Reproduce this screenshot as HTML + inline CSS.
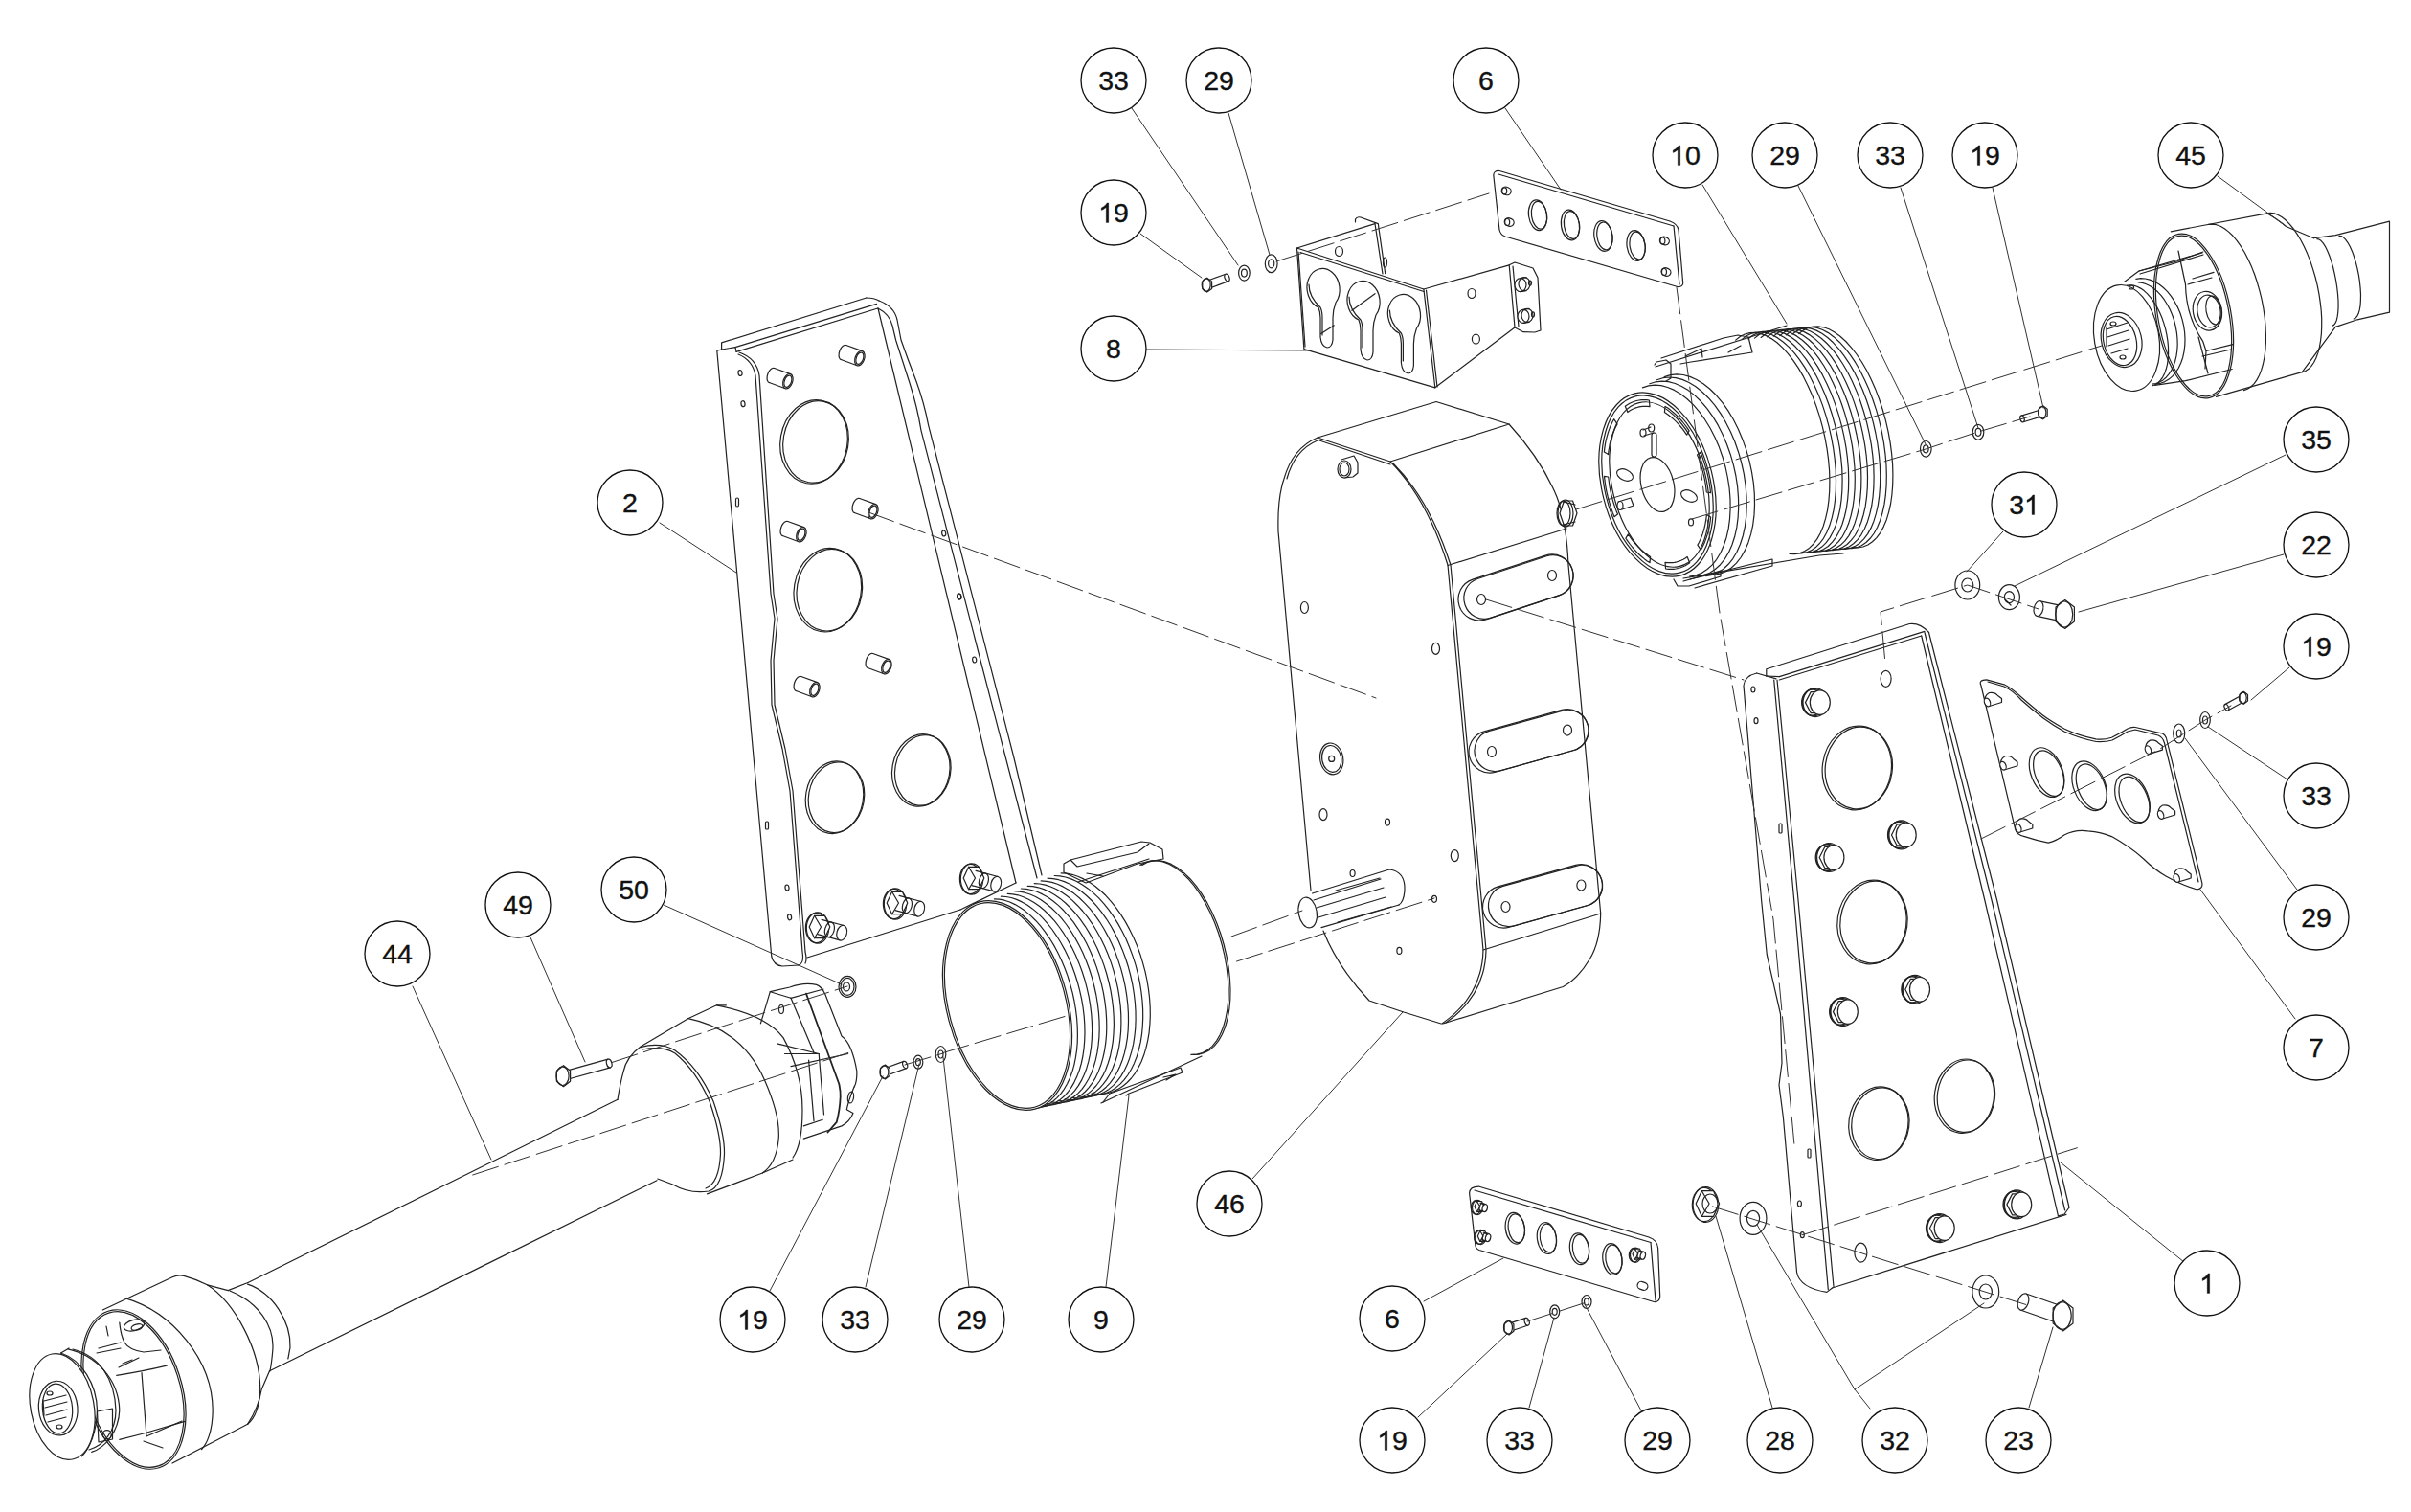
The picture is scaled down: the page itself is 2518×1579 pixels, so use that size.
<!DOCTYPE html>
<html><head><meta charset="utf-8"><title>Exploded view</title>
<style>
html,body{margin:0;padding:0;background:#fff;}
body{width:2518px;height:1579px;overflow:hidden;}
svg{display:block;}
svg text{font-family:"Liberation Sans",sans-serif;font-size:28.5px;fill:#111;stroke:#111;stroke-width:0.35px;}
</style></head><body>
<svg width="2518" height="1579" viewBox="0 0 2518 1579">
<rect width="2518" height="1579" fill="#fff"/>
<g fill="none" stroke="#222" stroke-width="1.2" stroke-linejoin="round" stroke-linecap="round">

<path d="M753.6,365.0 L753.6,357.9 L904.8,311.0"/>
<path d="M904.8,311 Q913,311 918,314"/>
<path d="M767.9,362.6 L915.5,317.4"/>
<path d="M769.0,367.4 L916.7,322.0"/>
<path d="M753.6,365.0 L768.0,362.6 L769.0,367.4"/>
<path d="M748.8,366.2 L753.6,365 M748.8,366.2 L805.8,999 Q808,1008 817,1009 L834,1008"/>
<path d="M771,370 Q786,376 789,392 L805,620 L809,646 L805,690 L806,736 L817,782 L825,826 L838,994 Q840,1006 834,1008"/>
<path d="M772,368 Q790,374 793,392 L808,620 L812,646 L808,690 L809,736 L820,782 L828,826 L841,994 Q843,1002 841,1006"/>
<path d="M917.0,322.0 L1061.0,922.0"/>
<path d="M843.0,1000.0 L1003.0,950.0"/>
<path d="M1003.0,950.0 L1061.0,922.0"/>
<path d="M918,314 Q934,320 937,334 L941,355 Q948,375 956.6,397.3 Q965,420 969.7,444.3 L1058.6,790 L1088,914"/>
<path d="M917,322 Q929,328 932,340 L935.7,355.5 Q943,378 950,400 Q958,425 962,449.6 L1050,790 L1083,917"/>
<ellipse cx="850.0" cy="461.4" rx="35.0" ry="44.0" transform="rotate(10 850 461.4)"/>
<ellipse cx="852.0" cy="461.4" rx="34.0" ry="43.0" transform="rotate(10 852 461.4)"/>
<ellipse cx="864.3" cy="616.2" rx="35.0" ry="44.0" transform="rotate(10 864.3 616.2)"/>
<ellipse cx="866.3" cy="616.2" rx="34.0" ry="43.0" transform="rotate(10 866.3 616.2)"/>
<ellipse cx="871.5" cy="832.7" rx="30.0" ry="38.0" transform="rotate(10 871.5 832.7)"/>
<ellipse cx="873.5" cy="832.7" rx="29.0" ry="37.0" transform="rotate(10 873.5 832.7)"/>
<ellipse cx="961.8" cy="804.4" rx="30.0" ry="38.0" transform="rotate(10 961.8 804.4)"/>
<ellipse cx="963.8" cy="804.4" rx="29.0" ry="37.0" transform="rotate(10 963.8 804.4)"/>
<path d="M803.3,399.5 L820.2,405.7"/>
<path d="M808.7,384.5 L825.7,390.6"/>
<path d="M803.3,399.5 L802.3,398.9 L801.6,397.8 L801.1,396.3 L801.1,394.5 L801.3,392.5 L801.9,390.5 L802.7,388.6 L803.8,386.9 L805.0,385.6 L806.3,384.7 L807.6,384.3 L808.7,384.5"/>
<ellipse cx="822.9" cy="398.2" rx="4.8" ry="8.0" transform="rotate(20 822.9144671741464 398.15636257986205)" fill="#fff"/>
<ellipse cx="822.9" cy="398.2" rx="3.6" ry="6.4" transform="rotate(20 822.9144671741464 398.15636257986205)"/>
<path d="M878.3,375.5 L895.2,381.7"/>
<path d="M883.7,360.5 L900.7,366.6"/>
<path d="M878.3,375.5 L877.3,374.9 L876.6,373.8 L876.1,372.3 L876.1,370.5 L876.3,368.5 L876.9,366.5 L877.7,364.6 L878.8,362.9 L880.0,361.6 L881.3,360.7 L882.6,360.3 L883.7,360.5"/>
<ellipse cx="897.9" cy="374.2" rx="4.8" ry="8.0" transform="rotate(20 897.9144671741464 374.15636257986205)" fill="#fff"/>
<ellipse cx="897.9" cy="374.2" rx="3.6" ry="6.4" transform="rotate(20 897.9144671741464 374.15636257986205)"/>
<path d="M892.3,535.5 L909.2,541.7"/>
<path d="M897.7,520.5 L914.7,526.6"/>
<path d="M892.3,535.5 L891.3,534.9 L890.6,533.8 L890.1,532.3 L890.1,530.5 L890.3,528.5 L890.9,526.5 L891.7,524.6 L892.8,522.9 L894.0,521.6 L895.3,520.7 L896.6,520.3 L897.7,520.5"/>
<ellipse cx="911.9" cy="534.2" rx="4.8" ry="8.0" transform="rotate(20 911.9144671741464 534.156362579862)" fill="#fff"/>
<ellipse cx="911.9" cy="534.2" rx="3.6" ry="6.4" transform="rotate(20 911.9144671741464 534.156362579862)"/>
<path d="M817.3,559.5 L834.2,565.7"/>
<path d="M822.7,544.5 L839.7,550.6"/>
<path d="M817.3,559.5 L816.3,558.9 L815.6,557.8 L815.1,556.3 L815.1,554.5 L815.3,552.5 L815.9,550.5 L816.7,548.6 L817.8,546.9 L819.0,545.6 L820.3,544.7 L821.6,544.3 L822.7,544.5"/>
<ellipse cx="836.9" cy="558.2" rx="4.8" ry="8.0" transform="rotate(20 836.9144671741464 558.156362579862)" fill="#fff"/>
<ellipse cx="836.9" cy="558.2" rx="3.6" ry="6.4" transform="rotate(20 836.9144671741464 558.156362579862)"/>
<path d="M831.3,721.5 L848.2,727.7"/>
<path d="M836.7,706.5 L853.7,712.6"/>
<path d="M831.3,721.5 L830.3,720.9 L829.6,719.8 L829.1,718.3 L829.1,716.5 L829.3,714.5 L829.9,712.5 L830.7,710.6 L831.8,708.9 L833.0,707.6 L834.3,706.7 L835.6,706.3 L836.7,706.5"/>
<ellipse cx="850.9" cy="720.2" rx="4.8" ry="8.0" transform="rotate(20 850.9144671741464 720.156362579862)" fill="#fff"/>
<ellipse cx="850.9" cy="720.2" rx="3.6" ry="6.4" transform="rotate(20 850.9144671741464 720.156362579862)"/>
<path d="M906.3,697.5 L923.2,703.7"/>
<path d="M911.7,682.5 L928.7,688.6"/>
<path d="M906.3,697.5 L905.3,696.9 L904.6,695.8 L904.1,694.3 L904.1,692.5 L904.3,690.5 L904.9,688.5 L905.7,686.6 L906.8,684.9 L908.0,683.6 L909.3,682.7 L910.6,682.3 L911.7,682.5"/>
<ellipse cx="925.9" cy="696.2" rx="4.8" ry="8.0" transform="rotate(20 925.9144671741464 696.156362579862)" fill="#fff"/>
<ellipse cx="925.9" cy="696.2" rx="3.6" ry="6.4" transform="rotate(20 925.9144671741464 696.156362579862)"/>
<ellipse cx="854.0" cy="969.0" rx="11.7" ry="16.2"/>
<ellipse cx="852.5" cy="969.0" rx="11.1" ry="15.6"/>
<path d="M866.8,968.0 L861.4,979.7 L850.6,979.7 L845.2,968.0 L850.6,956.3 L861.4,956.3 Z" fill="#fff"/>
<path d="M850.6,956.3 L857.5,968.0 L850.6,979.7"/>
<path d="M853.9,975.7 L877.1,981.9"/>
<path d="M858.1,960.3 L881.3,966.5"/>
<ellipse cx="866.4" cy="970.8" rx="4.8" ry="8.0" transform="rotate(15 866.4319989239219 970.7952456871072)"/>
<ellipse cx="879.2" cy="974.2" rx="5.2" ry="8.0" transform="rotate(15 879.1822198309376 974.2116570824605)" fill="#fff"/>
<ellipse cx="935.0" cy="944.0" rx="11.7" ry="16.2"/>
<ellipse cx="933.5" cy="944.0" rx="11.1" ry="15.6"/>
<path d="M947.8,943.0 L942.4,954.7 L931.6,954.7 L926.2,943.0 L931.6,931.3 L942.4,931.3 Z" fill="#fff"/>
<path d="M931.6,931.3 L938.5,943.0 L931.6,954.7"/>
<path d="M934.9,950.7 L958.1,956.9"/>
<path d="M939.1,935.3 L962.3,941.5"/>
<ellipse cx="947.4" cy="945.8" rx="4.8" ry="8.0" transform="rotate(15 947.4319989239219 945.7952456871072)"/>
<ellipse cx="960.2" cy="949.2" rx="5.2" ry="8.0" transform="rotate(15 960.1822198309376 949.2116570824605)" fill="#fff"/>
<ellipse cx="1015.0" cy="918.0" rx="11.7" ry="16.2"/>
<ellipse cx="1013.5" cy="918.0" rx="11.1" ry="15.6"/>
<path d="M1027.8,917.0 L1022.4,928.7 L1011.6,928.7 L1006.2,917.0 L1011.6,905.3 L1022.4,905.3 Z" fill="#fff"/>
<path d="M1011.6,905.3 L1018.5,917.0 L1011.6,928.7"/>
<path d="M1014.9,924.7 L1038.1,930.9"/>
<path d="M1019.1,909.3 L1042.3,915.5"/>
<ellipse cx="1027.4" cy="919.8" rx="4.8" ry="8.0" transform="rotate(15 1027.431998923922 919.7952456871072)"/>
<ellipse cx="1040.2" cy="923.2" rx="5.2" ry="8.0" transform="rotate(15 1040.1822198309376 923.2116570824605)" fill="#fff"/>
<ellipse cx="773.0" cy="389.5" rx="2.0" ry="3.0" transform="rotate(-10 773 389.5)"/>
<ellipse cx="776.0" cy="421.7" rx="2.0" ry="3.0" transform="rotate(-10 776 421.7)"/>
<ellipse cx="822.0" cy="927.0" rx="2.0" ry="3.0" transform="rotate(-10 822 927)"/>
<ellipse cx="824.6" cy="957.8" rx="2.0" ry="3.0" transform="rotate(-10 824.6 957.8)"/>
<ellipse cx="985.7" cy="557.0" rx="2.0" ry="3.0" transform="rotate(-10 985.7 557)"/>
<ellipse cx="1002.0" cy="623.0" rx="2.0" ry="3.0" transform="rotate(-10 1002 623)"/>
<ellipse cx="1017.7" cy="689.0" rx="2.0" ry="3.0" transform="rotate(-10 1017.7 689)"/>
<ellipse cx="1001.7" cy="623.0" rx="2.0" ry="3.0" transform="rotate(-10 1001.7 623)"/>
<rect x="768.5" y="520" width="3" height="9" rx="1.5"/>
<rect x="799.5" y="858" width="3" height="8" rx="1"/>
<path d="M1192.8,903.4 L1198.2,900.5 L1204.0,898.9 L1210.2,898.7 L1216.6,899.9 L1223.2,902.4 L1229.8,906.3 L1236.4,911.4 L1242.9,917.7 L1249.2,925.1 L1255.2,933.6 L1260.8,942.9 L1266.0,953.0 L1270.7,963.7 L1274.8,975.0 L1278.2,986.5 L1281.0,998.3 L1283.1,1010.1 L1284.4,1021.7 L1285.0,1033.1 L1284.8,1044.0 L1283.8,1054.3 L1282.0,1063.8 L1279.6,1072.5 L1276.4,1080.3 L1272.6,1086.9 L1268.2,1092.4 L1263.2,1096.6 L1257.8,1099.5 L1252.0,1101.1 L1245.8,1101.3" fill="#fff"/>
<path d="M1190.8,903.4 L1196.2,900.5 L1202.0,898.9 L1208.2,898.7 L1214.6,899.9 L1221.2,902.4 L1227.8,906.3 L1234.4,911.4 L1240.9,917.7 L1247.2,925.1 L1253.2,933.6 L1258.8,942.9 L1264.0,953.0 L1268.7,963.7 L1272.8,975.0 L1276.2,986.5 L1279.0,998.3 L1281.1,1010.1 L1282.4,1021.7 L1283.0,1033.1 L1282.8,1044.0 L1281.8,1054.3 L1280.0,1063.8 L1277.6,1072.5 L1274.4,1080.3 L1270.6,1086.9 L1266.2,1092.4 L1261.2,1096.6 L1255.8,1099.5 L1250.0,1101.1 L1243.8,1101.3"/>
<path d="M1126.0,921.0 L1200.0,897.0"/>
<path d="M1150.0,1152.0 L1255.0,1103.0"/>
<path d="M1038.4,938.8 L1043.7,939.2 L1049.1,940.2 L1054.6,942.0 L1060.1,944.6 L1065.5,947.7 L1071.0,951.6 L1076.3,956.1 L1081.5,961.2 L1086.6,966.9 L1091.4,973.1 L1096.1,979.8 L1100.5,986.9 L1104.6,994.5 L1108.4,1002.4 L1111.9,1010.7 L1115.0,1019.1 L1117.7,1027.8 L1120.1,1036.6 L1122.0,1045.5 L1123.5,1054.4 L1124.6,1063.2 L1125.2,1072.0 L1125.4,1080.6 L1125.2,1089.0 L1124.5,1097.1 L1123.3,1104.9 L1121.8,1112.3 L1119.8,1119.3 L1117.4,1125.8 L1114.6,1131.8 L1111.4,1137.3 L1107.9,1142.1 L1104.0,1146.4 L1099.9,1150.0 L1095.5,1152.9 L1090.8,1155.1 L1085.9,1156.7 L1080.8,1157.5 L1075.6,1157.6 L1070.2,1156.9"/>
<path d="M1045.4,936.1 L1050.7,936.5 L1056.2,937.5 L1061.7,939.4 L1067.2,941.9 L1072.7,945.1 L1078.2,948.9 L1083.6,953.4 L1088.8,958.6 L1093.9,964.3 L1098.8,970.5 L1103.5,977.3 L1107.9,984.5 L1112.1,992.1 L1115.9,1000.0 L1119.4,1008.3 L1122.5,1016.8 L1125.3,1025.5 L1127.6,1034.4 L1129.6,1043.3 L1131.1,1052.2 L1132.2,1061.1 L1132.8,1069.9 L1133.0,1078.6 L1132.7,1087.0 L1132.0,1095.2 L1130.9,1103.0 L1129.3,1110.5 L1127.3,1117.5 L1124.8,1124.1 L1122.0,1130.1 L1118.8,1135.6 L1115.3,1140.5 L1111.4,1144.8 L1107.2,1148.4 L1102.7,1151.3 L1098.0,1153.6 L1093.0,1155.1 L1087.9,1156.0 L1082.6,1156.1 L1077.2,1155.4"/>
<path d="M1052.3,933.4 L1057.7,933.8 L1063.2,934.8 L1068.8,936.7 L1074.3,939.2 L1079.9,942.4 L1085.4,946.3 L1090.8,950.8 L1096.1,956.0 L1101.3,961.7 L1106.2,968.0 L1110.9,974.7 L1115.4,982.0 L1119.5,989.6 L1123.4,997.6 L1126.9,1005.9 L1130.1,1014.5 L1132.9,1023.2 L1135.2,1032.1 L1137.2,1041.1 L1138.7,1050.1 L1139.8,1059.0 L1140.4,1067.9 L1140.6,1076.6 L1140.3,1085.1 L1139.6,1093.3 L1138.4,1101.2 L1136.8,1108.7 L1134.8,1115.7 L1132.3,1122.3 L1129.4,1128.4 L1126.2,1133.9 L1122.6,1138.9 L1118.7,1143.2 L1114.5,1146.8 L1109.9,1149.8 L1105.2,1152.1 L1100.2,1153.6 L1095.0,1154.5 L1089.7,1154.5 L1084.2,1153.9"/>
<path d="M1059.4,930.7 L1064.8,931.1 L1070.3,932.2 L1075.9,934.0 L1081.6,936.5 L1087.2,939.8 L1092.7,943.7 L1098.2,948.3 L1103.5,953.4 L1108.7,959.2 L1113.7,965.5 L1118.4,972.3 L1122.9,979.6 L1127.1,987.3 L1131.0,995.3 L1134.5,1003.7 L1137.7,1012.3 L1140.5,1021.1 L1142.8,1030.0 L1144.8,1039.0 L1146.3,1048.1 L1147.4,1057.1 L1148.0,1065.9 L1148.2,1074.7 L1147.9,1083.2 L1147.1,1091.4 L1145.9,1099.4 L1144.3,1106.9 L1142.2,1114.0 L1139.8,1120.7 L1136.9,1126.8 L1133.6,1132.3 L1130.0,1137.3 L1126.0,1141.6 L1121.7,1145.3 L1117.2,1148.3 L1112.4,1150.5 L1107.3,1152.1 L1102.1,1152.9 L1096.7,1153.0 L1091.2,1152.4"/>
<path d="M1066.3,928.0 L1071.8,928.4 L1077.4,929.5 L1083.0,931.3 L1088.7,933.9 L1094.4,937.1 L1099.9,941.0 L1105.5,945.6 L1110.8,950.8 L1116.0,956.6 L1121.1,962.9 L1125.8,969.8 L1130.4,977.1 L1134.6,984.8 L1138.5,992.9 L1142.0,1001.3 L1145.2,1009.9 L1148.0,1018.8 L1150.4,1027.8 L1152.4,1036.8 L1153.9,1045.9 L1155.0,1055.0 L1155.6,1063.9 L1155.8,1072.7 L1155.5,1081.3 L1154.7,1089.6 L1153.5,1097.5 L1151.8,1105.1 L1149.7,1112.3 L1147.2,1118.9 L1144.3,1125.1 L1141.0,1130.7 L1137.3,1135.7 L1133.3,1140.0 L1129.0,1143.7 L1124.4,1146.7 L1119.5,1149.0 L1114.5,1150.6 L1109.2,1151.4 L1103.8,1151.5 L1098.2,1150.9"/>
<path d="M1073.2,925.3 L1078.8,925.7 L1084.4,926.8 L1090.1,928.6 L1095.8,931.2 L1101.5,934.4 L1107.2,938.4 L1112.7,943.0 L1118.1,948.2 L1123.4,954.0 L1128.4,960.4 L1133.3,967.3 L1137.8,974.6 L1142.1,982.4 L1146.0,990.5 L1149.6,998.9 L1152.8,1007.6 L1155.6,1016.5 L1158.0,1025.5 L1160.0,1034.7 L1161.5,1043.8 L1162.6,1052.9 L1163.2,1061.9 L1163.4,1070.7 L1163.0,1079.3 L1162.3,1087.7 L1161.0,1095.7 L1159.4,1103.3 L1157.2,1110.5 L1154.7,1117.2 L1151.7,1123.4 L1148.4,1129.0 L1144.7,1134.0 L1140.6,1138.4 L1136.3,1142.1 L1131.6,1145.2 L1126.7,1147.5 L1121.6,1149.1 L1116.3,1149.9 L1110.8,1150.0 L1105.2,1149.4"/>
<path d="M1080.3,922.6 L1085.9,923.0 L1091.6,924.1 L1097.3,926.0 L1103.1,928.5 L1108.8,931.8 L1114.5,935.8 L1120.1,940.4 L1125.5,945.7 L1130.8,951.5 L1135.9,957.9 L1140.8,964.8 L1145.3,972.2 L1149.6,980.0 L1153.6,988.2 L1157.2,996.7 L1160.4,1005.4 L1163.2,1014.4 L1165.6,1023.4 L1167.6,1032.6 L1169.1,1041.8 L1170.2,1050.9 L1170.8,1059.9 L1170.9,1068.8 L1170.6,1077.5 L1169.8,1085.8 L1168.6,1093.9 L1166.9,1101.5 L1164.7,1108.8 L1162.1,1115.5 L1159.2,1121.7 L1155.8,1127.4 L1152.0,1132.4 L1148.0,1136.8 L1143.6,1140.6 L1138.9,1143.6 L1133.9,1145.9 L1128.8,1147.6 L1123.4,1148.4 L1117.9,1148.5 L1112.2,1147.9"/>
<path d="M1087.2,919.9 L1092.9,920.3 L1098.6,921.4 L1104.4,923.3 L1110.2,925.9 L1116.0,929.2 L1121.7,933.1 L1127.3,937.8 L1132.8,943.1 L1138.2,948.9 L1143.3,955.4 L1148.2,962.3 L1152.8,969.7 L1157.1,977.6 L1161.1,985.8 L1164.7,994.3 L1167.9,1003.1 L1170.8,1012.1 L1173.2,1021.2 L1175.2,1030.4 L1176.7,1039.6 L1177.8,1048.8 L1178.4,1057.9 L1178.5,1066.8 L1178.2,1075.5 L1177.4,1083.9 L1176.1,1092.0 L1174.4,1099.7 L1172.2,1107.0 L1169.6,1113.8 L1166.6,1120.0 L1163.2,1125.7 L1159.4,1130.8 L1155.3,1135.2 L1150.8,1139.0 L1146.1,1142.1 L1141.1,1144.4 L1135.9,1146.0 L1130.5,1146.9 L1124.9,1147.0 L1119.2,1146.4"/>
<path d="M1094.1,917.2 L1099.8,917.6 L1105.6,918.7 L1111.5,920.6 L1117.3,923.2 L1123.2,926.5 L1128.9,930.5 L1134.6,935.2 L1140.2,940.5 L1145.5,946.4 L1150.7,952.8 L1155.6,959.8 L1160.3,967.3 L1164.6,975.1 L1168.6,983.4 L1172.2,991.9 L1175.5,1000.8 L1178.4,1009.8 L1180.8,1019.0 L1182.8,1028.2 L1184.3,1037.5 L1185.4,1046.7 L1186.0,1055.9 L1186.1,1064.8 L1185.8,1073.6 L1184.9,1082.0 L1183.7,1090.2 L1181.9,1097.9 L1179.7,1105.2 L1177.1,1112.1 L1174.0,1118.4 L1170.6,1124.1 L1166.8,1129.2 L1162.6,1133.6 L1158.1,1137.4 L1153.3,1140.5 L1148.3,1142.9 L1143.0,1144.5 L1137.6,1145.4 L1132.0,1145.5 L1126.2,1144.9"/>
<path d="M1101.2,914.5 L1106.9,914.9 L1112.8,916.0 L1118.7,917.9 L1124.6,920.5 L1130.4,923.9 L1136.3,927.9 L1142.0,932.6 L1147.6,937.9 L1153.0,943.9 L1158.2,950.4 L1163.1,957.4 L1167.8,964.9 L1172.1,972.8 L1176.2,981.1 L1179.8,989.7 L1183.1,998.6 L1186.0,1007.6 L1188.4,1016.8 L1190.4,1026.1 L1191.9,1035.5 L1193.0,1044.7 L1193.6,1053.9 L1193.7,1062.9 L1193.3,1071.7 L1192.5,1080.2 L1191.2,1088.4 L1189.4,1096.2 L1187.2,1103.5 L1184.5,1110.4 L1181.4,1116.7 L1178.0,1122.5 L1174.1,1127.6 L1169.9,1132.1 L1165.4,1135.9 L1160.6,1139.0 L1155.5,1141.4 L1150.2,1143.0 L1144.7,1143.9 L1139.0,1144.0 L1133.2,1143.4"/>
<path d="M1108.1,911.8 L1113.9,912.2 L1119.8,913.3 L1125.7,915.2 L1131.7,917.9 L1137.6,921.2 L1143.5,925.2 L1149.2,930.0 L1154.9,935.3 L1160.3,941.3 L1165.5,947.8 L1170.5,954.9 L1175.2,962.4 L1179.6,970.4 L1183.7,978.7 L1187.4,987.3 L1190.7,996.2 L1193.5,1005.4 L1196.0,1014.6 L1198.0,1024.0 L1199.5,1033.3 L1200.6,1042.7 L1201.2,1051.9 L1201.3,1060.9 L1200.9,1069.8 L1200.1,1078.3 L1198.7,1086.6 L1196.9,1094.4 L1194.7,1101.8 L1192.0,1108.7 L1188.9,1115.0 L1185.4,1120.8 L1181.5,1126.0 L1177.2,1130.5 L1172.7,1134.3 L1167.8,1137.4 L1162.7,1139.8 L1157.3,1141.5 L1151.8,1142.4 L1146.1,1142.5 L1140.2,1141.9"/>
<ellipse cx="1052.0" cy="1050.0" rx="63.0" ry="112.0" transform="rotate(-15 1052 1050)" fill="#fff"/>
<ellipse cx="1052.0" cy="1050.0" rx="61.0" ry="110.0" transform="rotate(-15 1052 1050)"/>
<path d="M1111.0,911.0 L1111.0,902.0 L1118.0,898.0 L1192.0,879.0 L1201.0,880.0 L1214.0,887.0 L1215.0,897.0 L1188.0,902.0 L1153.0,915.0 L1134.0,922.0 L1111.0,911.0"/>
<path d="M1118.0,898.0 L1125.0,905.0 L1188.0,890.0 L1200.0,881.0"/>
<path d="M1135.0,912.0 L1152.0,915.0"/>
<path d="M1152.0,1151.0 L1159.0,1142.0 L1233.0,1115.0 L1235.0,1120.0 L1179.0,1142.0 L1176.0,1144.0"/>
<path d="M1215.0,1125.0 L1228.0,1122.0 L1218.0,1128.0"/>
<path d="M1376.0,457.0 L1500.0,419.5 L1576.0,443.0 L1452.0,482.0 Z"/>
<path d="M1378.0,460.0 L1452.0,485.0"/>
<path d="M1376,460 Q1352,470 1344,500"/>
<path d="M1376,457 Q1350,468 1341,500 Q1334,520 1335,555 L1369,930"/>
<path d="M1382,972 Q1397,1010 1430,1045 L1466,1057 L1505,1069"/>
<path d="M1452,482 Q1490,520 1512,590 L1549,992 Q1548,1040 1506,1069"/>
<path d="M1455,484 Q1493,522 1515,590 L1552,992 Q1551,1040 1510,1068"/>
<path d="M1576,443 Q1610,480 1626,519 Q1636,545 1638,590 L1671.7,954 Q1671,985 1660,1002 Q1648,1022 1632.4,1030.5 L1507,1069"/>
<path d="M1512.0,590.5 L1636.0,552.0"/>
<path d="M1549.0,992.0 L1671.7,954.0"/>
<rect x="1521.0" y="591.5" width="124.0" height="44.0" rx="22" ry="23.1" transform="rotate(-18.2 1583.0 613.5)"/>
<rect x="1527.0" y="592.5" width="118.0" height="43.0" rx="21" ry="23.1" transform="rotate(-18.2 1583.0 613.5)"/>
<ellipse cx="1547.0" cy="626.0" rx="4.5" ry="5.5"/>
<ellipse cx="1621.0" cy="601.0" rx="4.5" ry="5.5"/>
<rect x="1532.5" y="751.8" width="128.0" height="44.0" rx="22" ry="23.1" transform="rotate(-15.5 1596.5 773.8)"/>
<rect x="1538.5" y="752.8" width="122.0" height="43.0" rx="21" ry="23.1" transform="rotate(-15.5 1596.5 773.8)"/>
<ellipse cx="1558.0" cy="785.0" rx="4.5" ry="5.5"/>
<ellipse cx="1637.0" cy="762.6" rx="4.5" ry="5.5"/>
<rect x="1547.0" y="913.8" width="128.0" height="44.0" rx="22" ry="23.1" transform="rotate(-15.5 1611.0 935.8)"/>
<rect x="1553.0" y="914.8" width="122.0" height="43.0" rx="21" ry="23.1" transform="rotate(-15.5 1611.0 935.8)"/>
<ellipse cx="1572.5" cy="947.0" rx="4.5" ry="5.5"/>
<ellipse cx="1651.4" cy="924.5" rx="4.5" ry="5.5"/>
<ellipse cx="1362.4" cy="634.5" rx="4.0" ry="6.0"/>
<ellipse cx="1499.5" cy="677.4" rx="4.0" ry="6.0"/>
<ellipse cx="1382.0" cy="850.7" rx="4.0" ry="6.0"/>
<ellipse cx="1449.0" cy="858.6" rx="2.5" ry="3.5"/>
<ellipse cx="1519.3" cy="893.6" rx="4.0" ry="6.0"/>
<ellipse cx="1461.4" cy="992.9" rx="2.5" ry="3.5"/>
<ellipse cx="1412.6" cy="912.0" rx="2.5" ry="3.5"/>
<ellipse cx="1498.0" cy="938.8" rx="2.5" ry="3.5"/>
<ellipse cx="1390.7" cy="792.4" rx="12.0" ry="16.5" transform="rotate(-10 1390.7 792.4)"/>
<ellipse cx="1390.7" cy="792.4" rx="10.0" ry="14.0" transform="rotate(-10 1390.7 792.4)"/>
<ellipse cx="1390.7" cy="792.4" rx="3.0" ry="3.0"/>
<path d="M1401.0,480.0 L1414.0,476.0 L1418.0,483.0 L1418.0,494.0 L1413.0,498.0 L1404.0,499.0"/>
<ellipse cx="1404.0" cy="490.0" rx="7.0" ry="9.0" fill="#fff"/>
<ellipse cx="1404.0" cy="490.0" rx="5.0" ry="7.0"/>
<path d="M1647.0,536.0 L1642.5,549.0 L1633.5,549.0 L1629.0,536.0 L1633.5,523.0 L1642.5,523.0 Z" fill="#fff"/>
<ellipse cx="1635.0" cy="536.0" rx="8.0" ry="14.0"/>
<ellipse cx="1633.0" cy="536.0" rx="7.0" ry="13.0"/>
<path d="M1632.0,524.0 L1645.0,527.0"/>
<path d="M1632.0,548.0 L1645.0,545.0"/>
<path d="M1370.5,933.0 L1451.0,908.0"/>
<path d="M1380.0,968.6 L1461.0,945.0"/>
<path d="M1451,908 Q1468,910 1467,930 Q1466,942 1461,945"/>
<ellipse cx="1365.7" cy="953.0" rx="9.5" ry="16.0" transform="rotate(-10 1365.7 953)" fill="#fff"/>
<path d="M1372.0,940.0 L1442.0,918.0"/>
<path d="M1375.0,948.0 L1445.0,927.0"/>
<path d="M1377.0,958.0 L1447.0,937.0"/>
<path d="M1397.0,963.0 L1453.0,947.0"/>
<path d="M1395.0,930.0 L1441.0,917.0"/>
<path d="M1812.7,355.1 L1817.3,351.5 L1822.2,349.0 L1827.4,347.7 L1832.8,347.4 L1838.4,348.4 L1844.2,350.4 L1850.0,353.6 L1855.9,357.8 L1861.7,363.1 L1867.4,369.4 L1873.0,376.6 L1878.4,384.6 L1883.5,393.4 L1888.2,402.9 L1892.7,413.0 L1896.7,423.6 L1900.3,434.6 L1903.4,445.8 L1906.0,457.3 L1908.1,468.8 L1909.6,480.2 L1910.6,491.5 L1910.9,502.4 L1910.7,513.0 L1909.9,523.1 L1908.6,532.6 L1906.6,541.4 L1904.2,549.5 L1901.2,556.7 L1897.8,562.9 L1893.8,568.2 L1889.5,572.4 L1884.8,575.6 L1879.8,577.6 L1874.5,578.6 L1869.0,578.3"/>
<path d="M1819.3,354.4 L1823.9,350.8 L1828.8,348.4 L1834.0,347.0 L1839.4,346.8 L1845.0,347.7 L1850.8,349.7 L1856.6,352.9 L1862.5,357.2 L1868.3,362.4 L1874.0,368.7 L1879.6,375.9 L1885.0,383.9 L1890.1,392.8 L1894.8,402.3 L1899.3,412.4 L1903.3,422.9 L1906.9,433.9 L1910.0,445.2 L1912.6,456.6 L1914.7,468.1 L1916.2,479.5 L1917.2,490.8 L1917.5,501.8 L1917.3,512.4 L1916.5,522.5 L1915.2,532.0 L1913.2,540.8 L1910.8,548.8 L1907.8,556.0 L1904.4,562.3 L1900.4,567.5 L1896.1,571.8 L1891.4,574.9 L1886.4,577.0 L1881.1,577.9 L1875.6,577.7"/>
<path d="M1825.9,353.8 L1830.5,350.2 L1835.4,347.7 L1840.6,346.3 L1846.0,346.1 L1851.6,347.0 L1857.4,349.1 L1863.2,352.3 L1869.1,356.5 L1874.9,361.8 L1880.6,368.0 L1886.2,375.2 L1891.6,383.3 L1896.7,392.1 L1901.4,401.6 L1905.9,411.7 L1909.9,422.3 L1913.5,433.3 L1916.6,444.5 L1919.2,456.0 L1921.3,467.4 L1922.8,478.9 L1923.8,490.1 L1924.1,501.1 L1923.9,511.7 L1923.1,521.8 L1921.8,531.3 L1919.8,540.1 L1917.4,548.2 L1914.4,555.3 L1911.0,561.6 L1907.0,566.9 L1902.7,571.1 L1898.0,574.3 L1893.0,576.3 L1887.7,577.2 L1882.2,577.0"/>
<path d="M1832.5,353.1 L1837.1,349.5 L1842.0,347.0 L1847.2,345.7 L1852.6,345.5 L1858.2,346.4 L1864.0,348.4 L1869.8,351.6 L1875.7,355.8 L1881.5,361.1 L1887.2,367.4 L1892.8,374.6 L1898.2,382.6 L1903.3,391.4 L1908.0,400.9 L1912.5,411.0 L1916.5,421.6 L1920.1,432.6 L1923.2,443.9 L1925.8,455.3 L1927.9,466.8 L1929.4,478.2 L1930.4,489.5 L1930.7,500.5 L1930.5,511.0 L1929.7,521.1 L1928.4,530.6 L1926.4,539.5 L1924.0,547.5 L1921.0,554.7 L1917.6,560.9 L1913.6,566.2 L1909.3,570.5 L1904.6,573.6 L1899.6,575.7 L1894.3,576.6 L1888.8,576.4"/>
<path d="M1839.1,352.4 L1843.7,348.9 L1848.6,346.4 L1853.8,345.0 L1859.2,344.8 L1864.8,345.7 L1870.6,347.8 L1876.4,350.9 L1882.3,355.2 L1888.1,360.5 L1893.8,366.7 L1899.4,373.9 L1904.8,382.0 L1909.9,390.8 L1914.6,400.3 L1919.1,410.4 L1923.1,421.0 L1926.7,431.9 L1929.8,443.2 L1932.4,454.6 L1934.5,466.1 L1936.0,477.6 L1937.0,488.8 L1937.3,499.8 L1937.1,510.4 L1936.3,520.5 L1935.0,530.0 L1933.0,538.8 L1930.6,546.8 L1927.6,554.0 L1924.2,560.3 L1920.2,565.6 L1915.9,569.8 L1911.2,573.0 L1906.2,575.0 L1900.9,575.9 L1895.4,575.7"/>
<path d="M1845.7,351.8 L1850.3,348.2 L1855.2,345.7 L1860.4,344.4 L1865.8,344.1 L1871.4,345.1 L1877.2,347.1 L1883.0,350.3 L1888.9,354.5 L1894.7,359.8 L1900.4,366.1 L1906.0,373.3 L1911.4,381.3 L1916.5,390.1 L1921.2,399.6 L1925.7,409.7 L1929.7,420.3 L1933.3,431.3 L1936.4,442.5 L1939.0,454.0 L1941.1,465.5 L1942.6,476.9 L1943.6,488.2 L1943.9,499.1 L1943.7,509.7 L1942.9,519.8 L1941.6,529.3 L1939.6,538.1 L1937.2,546.2 L1934.2,553.4 L1930.8,559.6 L1926.8,564.9 L1922.5,569.1 L1917.8,572.3 L1912.8,574.3 L1907.5,575.3 L1902.0,575.0"/>
<path d="M1852.3,351.1 L1856.9,347.5 L1861.8,345.1 L1867.0,343.7 L1872.4,343.5 L1878.0,344.4 L1883.8,346.4 L1889.6,349.6 L1895.5,353.9 L1901.3,359.1 L1907.0,365.4 L1912.6,372.6 L1918.0,380.6 L1923.1,389.5 L1927.8,399.0 L1932.3,409.1 L1936.3,419.6 L1939.9,430.6 L1943.0,441.9 L1945.6,453.3 L1947.7,464.8 L1949.2,476.2 L1950.2,487.5 L1950.5,498.5 L1950.3,509.1 L1949.5,519.2 L1948.2,528.7 L1946.2,537.5 L1943.8,545.5 L1940.8,552.7 L1937.4,559.0 L1933.4,564.2 L1929.1,568.5 L1924.4,571.6 L1919.4,573.7 L1914.1,574.6 L1908.6,574.4"/>
<path d="M1858.9,350.5 L1863.5,346.9 L1868.4,344.4 L1873.6,343.0 L1879.0,342.8 L1884.6,343.7 L1890.4,345.8 L1896.2,349.0 L1902.1,353.2 L1907.9,358.5 L1913.6,364.7 L1919.2,371.9 L1924.6,380.0 L1929.7,388.8 L1934.4,398.3 L1938.9,408.4 L1942.9,419.0 L1946.5,430.0 L1949.6,441.2 L1952.2,452.7 L1954.3,464.1 L1955.8,475.6 L1956.8,486.8 L1957.1,497.8 L1956.9,508.4 L1956.1,518.5 L1954.8,528.0 L1952.8,536.8 L1950.4,544.9 L1947.4,552.0 L1944.0,558.3 L1940.0,563.6 L1935.7,567.8 L1931.0,571.0 L1926.0,573.0 L1920.7,573.9 L1915.2,573.7"/>
<path d="M1865.5,349.8 L1870.1,346.2 L1875.0,343.7 L1880.2,342.4 L1885.6,342.2 L1891.2,343.1 L1897.0,345.1 L1902.8,348.3 L1908.7,352.5 L1914.5,357.8 L1920.2,364.1 L1925.8,371.3 L1931.2,379.3 L1936.3,388.1 L1941.0,397.6 L1945.5,407.7 L1949.5,418.3 L1953.1,429.3 L1956.2,440.6 L1958.8,452.0 L1960.9,463.5 L1962.4,474.9 L1963.4,486.2 L1963.7,497.2 L1963.5,507.7 L1962.7,517.8 L1961.4,527.3 L1959.4,536.2 L1957.0,544.2 L1954.0,551.4 L1950.6,557.6 L1946.6,562.9 L1942.3,567.2 L1937.6,570.3 L1932.6,572.4 L1927.3,573.3 L1921.8,573.1"/>
<path d="M1872.1,349.1 L1876.7,345.6 L1881.6,343.1 L1886.8,341.7 L1892.2,341.5 L1897.8,342.4 L1903.6,344.5 L1909.4,347.6 L1915.3,351.9 L1921.1,357.2 L1926.8,363.4 L1932.4,370.6 L1937.8,378.7 L1942.9,387.5 L1947.6,397.0 L1952.1,407.1 L1956.1,417.7 L1959.7,428.6 L1962.8,439.9 L1965.4,451.3 L1967.5,462.8 L1969.0,474.3 L1970.0,485.5 L1970.3,496.5 L1970.1,507.1 L1969.3,517.2 L1968.0,526.7 L1966.0,535.5 L1963.6,543.5 L1960.6,550.7 L1957.2,557.0 L1953.2,562.3 L1948.9,566.5 L1944.2,569.7 L1939.2,571.7 L1933.9,572.6 L1928.4,572.4"/>
<path d="M1878.7,348.5 L1883.3,344.9 L1888.2,342.4 L1893.4,341.1 L1898.8,340.8 L1904.4,341.8 L1910.2,343.8 L1916.0,347.0 L1921.9,351.2 L1927.7,356.5 L1933.4,362.8 L1939.0,370.0 L1944.4,378.0 L1949.5,386.8 L1954.2,396.3 L1958.7,406.4 L1962.7,417.0 L1966.3,428.0 L1969.4,439.2 L1972.0,450.7 L1974.1,462.2 L1975.6,473.6 L1976.6,484.9 L1976.9,495.8 L1976.7,506.4 L1975.9,516.5 L1974.6,526.0 L1972.6,534.8 L1970.2,542.9 L1967.2,550.1 L1963.8,556.3 L1959.8,561.6 L1955.5,565.8 L1950.8,569.0 L1945.8,571.0 L1940.5,572.0 L1935.0,571.7"/>
<path d="M1729.0,383.0 L1866.0,340.0"/>
<path d="M1758.0,604.0 L1900.0,580.0 L1925.0,578.0"/>
<path d="M1715.4,404.9 L1721.7,402.9 L1728.2,402.2 L1734.9,402.7 L1741.7,404.5 L1748.6,407.4 L1755.4,411.5 L1762.1,416.7 L1768.6,422.9 L1774.8,430.1 L1780.6,438.2 L1786.0,447.0 L1790.9,456.5 L1795.3,466.6 L1799.0,477.2 L1802.1,488.0 L1804.4,499.0 L1806.1,510.0 L1807.0,521.0 L1807.1,531.7 L1806.5,542.1 L1805.2,551.9 L1803.1,561.2 L1800.2,569.8 L1796.8,577.5 L1792.7,584.3 L1788.0,590.1 L1782.7,594.8 L1777.1,598.4 L1771.0,600.8 L1764.6,602.1"/>
<path d="M1722.9,400.8 L1729.2,398.8 L1735.7,398.1 L1742.5,398.7 L1749.4,400.5 L1756.3,403.5 L1763.2,407.6 L1769.9,412.9 L1776.5,419.3 L1782.8,426.6 L1788.7,434.9 L1794.2,443.9 L1799.1,453.7 L1803.5,464.0 L1807.3,474.7 L1810.4,485.7 L1812.9,497.0 L1814.6,508.2 L1815.5,519.4 L1815.7,530.3 L1815.1,540.8 L1813.8,550.9 L1811.7,560.3 L1808.9,569.0 L1805.4,576.9 L1801.3,583.8 L1796.6,589.7 L1791.3,594.5 L1785.6,598.2 L1779.5,600.6 L1773.1,601.8"/>
<path d="M1730.4,396.7 L1736.7,394.7 L1743.3,394.0 L1750.1,394.6 L1757.0,396.4 L1764.0,399.5 L1771.0,403.8 L1777.8,409.2 L1784.4,415.7 L1790.8,423.2 L1796.8,431.6 L1802.3,440.9 L1807.3,450.8 L1811.8,461.3 L1815.6,472.2 L1818.8,483.5 L1821.3,494.9 L1823.0,506.4 L1824.0,517.8 L1824.2,528.9 L1823.7,539.6 L1822.4,549.9 L1820.3,559.5 L1817.5,568.3 L1814.0,576.3 L1809.9,583.3 L1805.1,589.3 L1799.9,594.2 L1794.1,597.9 L1788.0,600.4 L1781.5,601.6"/>
<path d="M1738.2,393.6 L1744.5,391.6 L1751.1,390.9 L1757.9,391.5 L1764.9,393.4 L1771.9,396.5 L1778.9,400.8 L1785.8,406.3 L1792.4,412.8 L1798.8,420.4 L1804.8,428.9 L1810.4,438.2 L1815.4,448.3 L1819.9,458.9 L1823.8,469.9 L1827.0,481.3 L1829.5,492.8 L1831.3,504.4 L1832.3,515.9 L1832.5,527.1 L1832.0,537.9 L1830.7,548.3 L1828.6,557.9 L1825.8,566.9 L1822.3,574.9 L1818.2,582.0 L1813.4,588.1 L1808.2,593.0 L1802.4,596.7 L1796.2,599.2 L1789.7,600.4"/>
<ellipse cx="1731.0" cy="506.0" rx="58.0" ry="98.0" transform="rotate(-14 1731 506)" fill="#fff"/>
<ellipse cx="1731.0" cy="506.0" rx="55.0" ry="95.0" transform="rotate(-14 1731 506)"/>
<ellipse cx="1733.0" cy="506.0" rx="49.0" ry="88.0" transform="rotate(-14 1733 506)"/>
<ellipse cx="1731.0" cy="506.0" rx="17.0" ry="29.0" transform="rotate(-14 1731 506)"/>
<path d="M1776.0,472.3 L1777.6,476.3 L1779.0,480.4 L1780.4,484.6 L1781.6,488.8 L1782.8,493.1 L1783.8,497.4 L1784.7,501.7 L1785.4,506.0 L1786.0,510.3 L1786.5,514.6 L1782.3,514.0 L1781.8,510.0 L1781.3,506.0 L1780.6,502.0 L1779.8,498.0 L1778.8,494.1 L1777.8,490.1 L1776.6,486.2 L1775.4,482.4 L1774.0,478.6 L1772.5,474.9 Z"/>
<path d="M1786.6,540.0 L1786.2,543.9 L1785.6,547.8 L1784.9,551.6 L1784.0,555.2 L1783.0,558.7 L1781.9,562.1 L1780.7,565.4 L1779.4,568.5 L1777.9,571.5 L1776.4,574.3 L1772.9,569.1 L1774.4,566.5 L1775.7,563.8 L1776.9,560.9 L1778.1,557.9 L1779.1,554.7 L1780.0,551.5 L1780.8,548.1 L1781.4,544.6 L1782.0,541.1 L1782.4,537.4 Z"/>
<path d="M1764.7,587.8 L1762.5,589.3 L1760.1,590.7 L1757.8,591.8 L1755.3,592.7 L1752.8,593.5 L1750.3,594.0 L1747.7,594.3 L1745.0,594.4 L1742.3,594.3 L1739.6,594.0 L1739.0,587.3 L1741.5,587.6 L1743.9,587.7 L1746.4,587.6 L1748.8,587.3 L1751.2,586.8 L1753.5,586.1 L1755.7,585.3 L1757.9,584.2 L1760.1,583.0 L1762.1,581.5 Z"/>
<path d="M1723.0,587.6 L1720.3,585.9 L1717.6,583.9 L1715.0,581.8 L1712.4,579.5 L1709.8,577.0 L1707.3,574.3 L1704.8,571.5 L1702.4,568.5 L1700.1,565.4 L1697.9,562.1 L1700.4,557.9 L1702.5,560.9 L1704.6,563.8 L1706.8,566.5 L1709.1,569.1 L1711.4,571.6 L1713.8,573.9 L1716.2,576.0 L1718.7,578.0 L1721.1,579.8 L1723.6,581.4 Z"/>
<path d="M1686.0,539.7 L1684.4,535.7 L1683.0,531.6 L1681.6,527.4 L1680.4,523.2 L1679.2,518.9 L1678.2,514.6 L1677.3,510.3 L1676.6,506.0 L1676.0,501.7 L1675.5,497.4 L1679.7,498.0 L1680.2,502.0 L1680.7,506.0 L1681.4,510.0 L1682.2,514.0 L1683.2,517.9 L1684.2,521.9 L1685.4,525.8 L1686.6,529.6 L1688.0,533.4 L1689.5,537.1 Z"/>
<path d="M1675.4,472.0 L1675.8,468.1 L1676.4,464.2 L1677.1,460.4 L1678.0,456.8 L1679.0,453.3 L1680.1,449.9 L1681.3,446.6 L1682.6,443.5 L1684.1,440.5 L1685.6,437.7 L1689.1,442.9 L1687.6,445.5 L1686.3,448.2 L1685.1,451.1 L1683.9,454.1 L1682.9,457.3 L1682.0,460.5 L1681.2,463.9 L1680.6,467.4 L1680.0,470.9 L1679.6,474.6 Z"/>
<path d="M1697.3,424.2 L1699.5,422.7 L1701.9,421.3 L1704.2,420.2 L1706.7,419.3 L1709.2,418.5 L1711.7,418.0 L1714.3,417.7 L1717.0,417.6 L1719.7,417.7 L1722.4,418.0 L1723.0,424.7 L1720.5,424.4 L1718.1,424.3 L1715.6,424.4 L1713.2,424.7 L1710.8,425.2 L1708.5,425.9 L1706.3,426.7 L1704.1,427.8 L1701.9,429.0 L1699.9,430.5 Z"/>
<path d="M1739.0,424.4 L1741.7,426.1 L1744.4,428.1 L1747.0,430.2 L1749.6,432.5 L1752.2,435.0 L1754.7,437.7 L1757.2,440.5 L1759.6,443.5 L1761.9,446.6 L1764.1,449.9 L1761.6,454.1 L1759.5,451.1 L1757.4,448.2 L1755.2,445.5 L1752.9,442.9 L1750.6,440.4 L1748.2,438.1 L1745.8,436.0 L1743.3,434.0 L1740.9,432.2 L1738.4,430.6 Z"/>
<ellipse cx="1697.0" cy="496.0" rx="9.0" ry="5.5" transform="rotate(25 1697 496)"/>
<ellipse cx="1764.0" cy="518.0" rx="9.0" ry="5.5" transform="rotate(25 1764 518)"/>
<ellipse cx="1766.0" cy="545.4" rx="2.5" ry="3.5"/>
<ellipse cx="1724.7" cy="447.0" rx="3.0" ry="4.0"/>
<path d="M1716.0,449.0 L1724.0,446.0"/>
<path d="M1717.0,455.0 L1727.0,452.0"/>
<ellipse cx="1716.0" cy="452.0" rx="3.0" ry="4.0"/>
<rect x="1725" y="452" width="5" height="25" rx="2.5"/>
<path d="M1690.0,524.0 L1703.0,520.0 L1706.0,528.0 L1694.0,532.0"/>
<ellipse cx="1692.0" cy="528.0" rx="3.0" ry="4.5"/>
<path d="M1728.0,381.0 L1730.0,378.0 L1740.0,376.0 L1745.0,380.0 L1745.0,395.0 L1740.0,398.0"/>
<path d="M1735.0,374.0 L1800.0,353.0 L1815.0,350.0 L1826.0,352.0 L1830.0,368.0 L1766.0,378.0 L1755.0,380.0"/>
<path d="M1760.0,372.0 L1777.0,364.0 L1778.0,373.0"/>
<path d="M1805.0,368.0 L1818.0,361.0"/>
<path d="M1748.0,605.0 L1752.0,612.0 L1764.0,612.0 L1797.0,602.0 L1797.0,596.0 L1758.0,607.0"/>
<path d="M1765.0,605.0 L1838.0,587.0 L1851.0,584.0 L1851.0,591.0 L1840.0,594.0 L1770.0,614.0"/>
<path d="M2416.4,248.7 L2439.2,245.6 L2495.5,231.2 L2495.5,326.2 L2462.0,333.8 L2439.2,341.4"/>
<path d="M2419.8,249.7 L2421.8,249.9 L2423.9,251.3 L2426.0,253.7 L2428.3,257.1 L2430.5,261.5 L2432.7,266.7 L2434.7,272.6 L2436.6,279.0 L2438.2,285.9 L2439.6,292.9 L2440.7,300.0 L2441.5,307.0 L2442.0,313.7 L2442.1,319.9 L2441.8,325.6 L2441.2,330.4 L2440.3,334.4 L2439.0,337.4 L2437.5,339.4 L2435.8,340.3"/>
<path d="M2443.0,246.4 L2445.1,246.5 L2447.3,247.8 L2449.6,250.1 L2451.9,253.3 L2454.3,257.5 L2456.5,262.4 L2458.5,268.0 L2460.4,274.2 L2462.0,280.7 L2463.4,287.4 L2464.4,294.2 L2465.1,300.9 L2465.5,307.4 L2465.4,313.3 L2465.1,318.7 L2464.3,323.4 L2463.2,327.3 L2461.8,330.2 L2460.1,332.1 L2458.2,333.0"/>
<path d="M2367.7,222.8 Q2380,230 2387.5,236.5 L2416.4,248.7"/>
<path d="M2404.2,388.6 L2439.2,341.4"/>
<path d="M2267.3,241.8 L2367.7,222.8"/>
<path d="M2314.5,414.4 L2404.2,388.6"/>
<path d="M2306.6,234.4 L2310.6,234.1 L2314.7,234.7 L2319.0,236.2 L2323.3,238.7 L2327.6,242.1 L2332.0,246.3 L2336.2,251.4 L2340.3,257.2 L2344.3,263.7 L2348.0,270.9 L2351.5,278.6 L2354.7,286.7 L2357.5,295.3 L2360.0,304.1 L2362.2,313.1 L2363.9,322.2 L2365.2,331.3 L2366.0,340.2 L2366.4,349.0 L2366.4,357.4 L2365.9,365.5 L2364.9,373.1 L2363.5,380.0 L2361.7,386.4 L2359.5,392.0 L2356.9,396.9 L2354.0,400.9 L2350.7,404.0 L2347.2,406.3 L2343.4,407.6"/>
<path d="M2367.7,222.7 L2371.4,222.4 L2375.3,222.9 L2379.2,224.4 L2383.2,226.8 L2387.3,230.0 L2391.3,234.1 L2395.3,239.0 L2399.2,244.6 L2402.9,250.8 L2406.5,257.7 L2409.8,265.1 L2412.9,272.9 L2415.6,281.1 L2418.1,289.5 L2420.2,298.2 L2421.9,306.9 L2423.2,315.6 L2424.2,324.2 L2424.7,332.6 L2424.7,340.7 L2424.4,348.4 L2423.6,355.7 L2422.4,362.4 L2420.9,368.4 L2418.9,373.8 L2416.6,378.5 L2413.9,382.3 L2411.0,385.3 L2407.7,387.5 L2404.3,388.7"/>
<ellipse cx="2291.0" cy="330.0" rx="39.0" ry="87.0" transform="rotate(-10.5 2291 330)" fill="#fff"/>
<ellipse cx="2291.0" cy="330.0" rx="37.0" ry="85.0" transform="rotate(-10.5 2291 330)"/>
<path d="M2290.0,291.0 L2312.0,284.4"/>
<path d="M2285.0,297.0 L2310.0,290.0"/>
<path d="M2282.5,297 Q2283,330 2300.8,356.7 L2304,366.5 L2332,359.7"/>
<path d="M2304.0,366.5 L2303.0,385.0"/>
<path d="M2300.0,372.0 L2330.0,365.0"/>
<ellipse cx="2305.4" cy="324.7" rx="15.0" ry="20.5" transform="rotate(-10 2305.4 324.7)"/>
<ellipse cx="2307.0" cy="325.0" rx="12.0" ry="17.0" transform="rotate(-10 2307 325)"/>
<ellipse cx="2312.0" cy="324.0" rx="8.0" ry="15.0" transform="rotate(-10 2312 324)"/>
<path d="M2275.0,262.0 L2282.5,297.0"/>
<path d="M2296.0,352.0 L2306.0,390.0"/>
<path d="M2218.7,294.3 L2233.9,283.0 L2273.4,273.0 L2300.8,263.0"/>
<path d="M2234.0,283.0 L2300.0,264.0"/>
<path d="M2235.0,286.0 L2301.0,266.0"/>
<path d="M2250.6,402.3 L2282.5,397.7 L2331.2,385.5"/>
<path d="M2230.9,291.3 L2235.6,290.7 L2240.4,291.0 L2245.2,292.1 L2250.0,294.0 L2254.7,296.7 L2259.2,300.2 L2263.5,304.4 L2267.5,309.3 L2271.0,314.7 L2274.2,320.6 L2276.9,326.8 L2279.0,333.4 L2280.6,340.2 L2281.6,347.0 L2282.0,353.9 L2281.8,360.6 L2281.0,367.1 L2279.7,373.2 L2277.7,379.0 L2275.3,384.2 L2272.3,388.9 L2268.9,392.9 L2265.1,396.1 L2260.9,398.6 L2256.5,400.3 L2251.8,401.2"/>
<path d="M2233.3,294.8 L2237.4,295.4 L2241.5,296.7 L2245.6,298.7 L2249.6,301.4 L2253.5,304.8 L2257.1,308.7 L2260.5,313.2 L2263.6,318.2 L2266.4,323.5 L2268.8,329.2 L2270.8,335.2 L2272.3,341.3 L2273.4,347.6 L2274.0,353.8 L2274.2,360.0 L2273.8,366.0 L2273.0,371.7 L2271.7,377.2 L2269.9,382.2 L2267.8,386.7 L2265.2,390.7 L2262.2,394.2 L2259.0,396.9 L2255.4,399.1 L2251.7,400.5 L2247.8,401.2"/>
<path d="M2221.4,298.2 L2224.8,297.8 L2228.3,298.1 L2231.9,299.2 L2235.6,301.1 L2239.2,303.6 L2242.7,306.9 L2246.2,310.8 L2249.4,315.3 L2252.5,320.3 L2255.3,325.7 L2257.8,331.5 L2259.9,337.6 L2261.7,343.8 L2263.0,350.2 L2264.0,356.6 L2264.5,362.8 L2264.6,369.0 L2264.3,374.8 L2263.5,380.3 L2262.3,385.3 L2260.7,389.9 L2258.7,393.8 L2256.3,397.2 L2253.7,399.9 L2250.7,401.8 L2247.6,403.0"/>
<ellipse cx="2221.0" cy="353.0" rx="33.7" ry="56.0" transform="rotate(-10 2221 353)" fill="#fff"/>
<ellipse cx="2215.6" cy="355.0" rx="20.9" ry="28.9" transform="rotate(-14 2215.6 355)"/>
<ellipse cx="2214.0" cy="356.0" rx="17.0" ry="26.0" transform="rotate(-14 2214 356)"/>
<path d="M2200.0,344.0 L2222.0,337.0"/>
<path d="M2201.0,352.0 L2223.0,345.0"/>
<path d="M2202.0,361.0 L2224.0,354.0"/>
<path d="M2205.0,369.0 L2222.0,364.0"/>
<path d="M2200.0,341.0 L2200.0,362.0"/>
<ellipse cx="2207.0" cy="338.0" rx="3.0" ry="2.0"/>
<ellipse cx="2217.0" cy="373.0" rx="3.0" ry="2.0"/>
<ellipse cx="2226.0" cy="300.0" rx="2.5" ry="2.0"/>
<path d="M1844.8,706.0 L1844.8,698.7 L1994.3,651.5"/>
<path d="M1994.3,651.5 Q2005,650 2014.6,660.5"/>
<path d="M1858.3,706.6 L2010.0,659.4"/>
<path d="M1858.3,710.0 L2006.7,664.0"/>
<path d="M1844.8,706.0 L1858.3,706.6"/>
<path d="M1834.7,703 Q1822,706 1821,716 L1839.6,940 L1845.3,997 L1859.5,1059 L1861,1110 L1858,1133 L1862.4,1167 L1876.6,1329 Q1880,1345 1907.9,1349.4 L1913.5,1345"/>
<path d="M1834.7,703.0 L1855.0,708.8"/>
<path d="M1852.7,710.0 L1873.7,940.0 L1909.3,1346.6"/>
<path d="M1856.0,710.0 L1878.0,940.0 L1915.0,1343.8"/>
<path d="M1913.5,1345.0 L2158.0,1268.4"/>
<path d="M2006.7,664.0 L2072.8,940.0 L2149.5,1269.8"/>
<path d="M2010.0,660.5 L2080.0,940.0 L2156.6,1264.0"/>
<path d="M2014.6,661.0 L2085.6,940.0 L2161.0,1261.0"/>
<path d="M2149.5,1269.8 L2156.0,1268.0 L2161.0,1261.0"/>
<ellipse cx="1939.3" cy="802.0" rx="36.0" ry="44.0" transform="rotate(8 1939.3 802)"/>
<ellipse cx="1941.3" cy="802.0" rx="35.0" ry="43.0" transform="rotate(8 1941.3 802)"/>
<ellipse cx="1955.0" cy="963.0" rx="36.0" ry="44.0" transform="rotate(8 1955 963)"/>
<ellipse cx="1957.0" cy="963.0" rx="35.0" ry="43.0" transform="rotate(8 1957 963)"/>
<ellipse cx="1961.9" cy="1173.2" rx="31.0" ry="38.4" transform="rotate(8 1961.9 1173.2)"/>
<ellipse cx="1963.9" cy="1173.2" rx="30.0" ry="37.4" transform="rotate(8 1963.9 1173.2)"/>
<ellipse cx="2051.4" cy="1144.7" rx="31.0" ry="38.8" transform="rotate(8 2051.4 1144.7)"/>
<ellipse cx="2053.4" cy="1144.7" rx="30.0" ry="37.8" transform="rotate(8 2053.4 1144.7)"/>
<ellipse cx="1969.6" cy="708.8" rx="5.5" ry="8.5"/>
<ellipse cx="1943.4" cy="1308.2" rx="6.5" ry="10.0"/>
<ellipse cx="1895.8" cy="733.6" rx="12.8" ry="15.0"/>
<ellipse cx="1894.3" cy="733.6" rx="12.0" ry="14.2"/>
<ellipse cx="1892.8" cy="733.6" rx="11.2" ry="13.5"/>
<path d="M1908.0,733.6 L1902.4,744.6 L1891.2,744.6 L1885.5,733.6 L1891.2,722.6 L1902.4,722.6 Z" fill="#fff"/>
<ellipse cx="1900.8" cy="733.6" rx="10.5" ry="12.8" fill="#fff"/>
<ellipse cx="1985.7" cy="871.9" rx="12.8" ry="15.0"/>
<ellipse cx="1984.2" cy="871.9" rx="12.0" ry="14.2"/>
<ellipse cx="1982.7" cy="871.9" rx="11.2" ry="13.5"/>
<path d="M1998.0,871.9 L1992.3,882.9 L1981.1,882.9 L1975.5,871.9 L1981.1,860.9 L1992.3,860.9 Z" fill="#fff"/>
<ellipse cx="1990.7" cy="871.9" rx="10.5" ry="12.8" fill="#fff"/>
<ellipse cx="1910.4" cy="895.5" rx="12.8" ry="15.0"/>
<ellipse cx="1908.9" cy="895.5" rx="12.0" ry="14.2"/>
<ellipse cx="1907.4" cy="895.5" rx="11.2" ry="13.5"/>
<path d="M1922.7,895.5 L1917.0,906.5 L1905.8,906.5 L1900.2,895.5 L1905.8,884.5 L1917.0,884.5 Z" fill="#fff"/>
<ellipse cx="1915.4" cy="895.5" rx="10.5" ry="12.8" fill="#fff"/>
<ellipse cx="1924.8" cy="1056.6" rx="12.8" ry="15.0"/>
<ellipse cx="1923.3" cy="1056.6" rx="12.0" ry="14.2"/>
<ellipse cx="1921.8" cy="1056.6" rx="11.2" ry="13.5"/>
<path d="M1937.0,1056.6 L1931.4,1067.6 L1920.2,1067.6 L1914.5,1056.6 L1920.2,1045.6 L1931.4,1045.6 Z" fill="#fff"/>
<ellipse cx="1929.8" cy="1056.6" rx="10.5" ry="12.8" fill="#fff"/>
<ellipse cx="2000.0" cy="1033.3" rx="12.8" ry="15.0"/>
<ellipse cx="1998.5" cy="1033.3" rx="12.0" ry="14.2"/>
<ellipse cx="1997.0" cy="1033.3" rx="11.2" ry="13.5"/>
<path d="M2012.2,1033.3 L2006.6,1044.3 L1995.4,1044.3 L1989.8,1033.3 L1995.4,1022.3 L2006.6,1022.3 Z" fill="#fff"/>
<ellipse cx="2005.0" cy="1033.3" rx="10.5" ry="12.8" fill="#fff"/>
<ellipse cx="2025.7" cy="1282.6" rx="12.8" ry="15.0"/>
<ellipse cx="2024.2" cy="1282.6" rx="12.0" ry="14.2"/>
<ellipse cx="2022.7" cy="1282.6" rx="11.2" ry="13.5"/>
<path d="M2038.0,1282.6 L2032.3,1293.6 L2021.1,1293.6 L2015.5,1282.6 L2021.1,1271.6 L2032.3,1271.6 Z" fill="#fff"/>
<ellipse cx="2030.7" cy="1282.6" rx="10.5" ry="12.8" fill="#fff"/>
<ellipse cx="2106.2" cy="1257.9" rx="12.8" ry="15.0"/>
<ellipse cx="2104.7" cy="1257.9" rx="12.0" ry="14.2"/>
<ellipse cx="2103.2" cy="1257.9" rx="11.2" ry="13.5"/>
<path d="M2118.4,1257.9 L2112.8,1268.9 L2101.6,1268.9 L2095.9,1257.9 L2101.6,1246.9 L2112.8,1246.9 Z" fill="#fff"/>
<ellipse cx="2111.2" cy="1257.9" rx="10.5" ry="12.8" fill="#fff"/>
<ellipse cx="1830.9" cy="720.0" rx="2.0" ry="3.0"/>
<ellipse cx="1834.0" cy="752.7" rx="2.0" ry="3.0"/>
<ellipse cx="1879.4" cy="1257.0" rx="2.0" ry="3.0"/>
<ellipse cx="1882.3" cy="1289.7" rx="2.0" ry="3.0"/>
<rect x="1858" y="860" width="3" height="10" rx="1"/>
<rect x="1888" y="1200" width="3" height="9" rx="1"/>
<path d="M2074.7,709.8 Q2066,710 2069,716 L2104.5,865.3 Q2106,872 2114.4,873.6 Q2128,878 2139.2,880.2 Q2148,878 2155.8,872 Q2167,866 2180.6,867.8 Q2195,869 2205.4,873.6 Q2224,884 2238.5,896.7 Q2250,908 2262,915 Q2280,925 2294.7,929 Q2301,928 2299.7,921.6 L2263.3,774.4 Q2262,765 2255,765.3 L2230.2,759.5 Q2226,759 2222,761 Q2212,767 2205.4,770.2 Q2197,773 2188.9,771.9 Q2170,768 2155.8,761 Q2140,752 2132.6,746.2 Q2120,736 2111,728 Q2100,718 2093,714.8 Z" fill="#fff"/>
<path d="M2076,712 L2093,717 Q2102,721 2111,731 Q2122,741 2134,750 Q2145,758 2156,764 Q2172,771 2189,774.5 Q2199,775 2206,773 Q2214,769 2222,764 L2230,762 L2254,768 Q2259,770 2260.5,776 L2296,921"/>
<ellipse cx="2137.6" cy="806.6" rx="16.5" ry="27.0" transform="rotate(-22 2137.6 806.6)"/>
<ellipse cx="2139.6" cy="807.6" rx="14.0" ry="25.0" transform="rotate(-22 2139.6 807.6)"/>
<ellipse cx="2182.2" cy="820.7" rx="16.5" ry="27.0" transform="rotate(-22 2182.2 820.7)"/>
<ellipse cx="2184.2" cy="821.7" rx="14.0" ry="25.0" transform="rotate(-22 2184.2 821.7)"/>
<ellipse cx="2227.0" cy="833.9" rx="16.5" ry="27.0" transform="rotate(-22 2227 833.9)"/>
<ellipse cx="2229.0" cy="834.9" rx="14.0" ry="25.0" transform="rotate(-22 2229 834.9)"/>
<path d="M2073.5,734.5 Q2071.5,726.5 2077.5,723.5 Q2083.5,722.5 2086.5,726.5 L2090.5,729.5 L2090.5,733.5 L2077.5,737.5"/>
<ellipse cx="2075.5" cy="733.5" rx="3.0" ry="4.5" transform="rotate(-20 2075.5 733.5)" fill="#fff"/>
<path d="M2090,800.7 Q2088,792.7 2094,789.7 Q2100,788.7 2103,792.7 L2107,795.7 L2107,799.7 L2094,803.7"/>
<ellipse cx="2092.0" cy="799.7" rx="3.0" ry="4.5" transform="rotate(-20 2092 799.7)" fill="#fff"/>
<path d="M2105.8,866 Q2103.8,858 2109.8,855 Q2115.8,854 2118.8,858 L2122.8,861 L2122.8,865 L2109.8,869"/>
<ellipse cx="2107.8" cy="865.0" rx="3.0" ry="4.5" transform="rotate(-20 2107.8 865)" fill="#fff"/>
<path d="M2241.4,784.1 Q2239.4,776.1 2245.4,773.1 Q2251.4,772.1 2254.4,776.1 L2258.4,779.1 L2258.4,783.1 L2245.4,787.1"/>
<ellipse cx="2243.4" cy="783.1" rx="3.0" ry="4.5" transform="rotate(-20 2243.4 783.1)" fill="#fff"/>
<path d="M2254.6,852 Q2252.6,844 2258.6,841 Q2264.6,840 2267.6,844 L2271.6,847 L2271.6,851 L2258.6,855"/>
<ellipse cx="2256.6" cy="851.0" rx="3.0" ry="4.5" transform="rotate(-20 2256.6 851)" fill="#fff"/>
<path d="M2271.2,918 Q2269.2,910 2275.2,907 Q2281.2,906 2284.2,910 L2288.2,913 L2288.2,917 L2275.2,921"/>
<ellipse cx="2273.2" cy="917.0" rx="3.0" ry="4.5" transform="rotate(-20 2273.2 917)" fill="#fff"/>
<path d="M1415.5,232 L1415.5,229 Q1417,226 1421,227 L1439.3,233.6 L1446.7,285.7"/>
<path d="M1436.0,233.6 L1444.0,286.0"/>
<ellipse cx="1446.5" cy="274.0" rx="2.0" ry="5.0"/>
<path d="M1354.5,259.0 L1436.0,233.6"/>
<path d="M1354.5,259.0 L1486.9,302.0 L1498.8,404.8 L1361.9,364.6 Z" fill="#fff"/>
<path d="M1356.0,263.0 L1363.0,362.0"/>
<path d="M1358.0,263.5 L1487.0,304.5"/>
<path d="M1486.9,302.0 L1576.2,276.8 L1582.0,342.0 L1498.8,404.8"/>
<path d="M1489.5,303.0 L1501.0,404.0"/>
<ellipse cx="1398.5" cy="262.5" rx="4.0" ry="5.0"/>
<path d="M1377,321 A17,21,-8,1,1,1395,316 Q1392,324 1392,332 L1392,355 Q1391,363 1386,363 Q1380,362 1379,352 L1379,332 Q1379,326 1377,321 Z"/>
<path d="M1381,350 L1381,332 Q1381,325 1379,321 Q1367,310 1367,297"/>
<path d="M1419,334 A17,21,-8,1,1,1437,329 Q1434,337 1434,345 L1434,368 Q1433,376 1428,376 Q1422,375 1421,365 L1421,345 Q1421,339 1419,334 Z"/>
<path d="M1423,363 L1423,345 Q1423,338 1421,334 Q1409,323 1409,310"/>
<path d="M1461.4,348 A17,21,-8,1,1,1479.4,343 Q1476.4,351 1476.4,359 L1476.4,382 Q1475.4,390 1470.4,390 Q1464.4,389 1463.4,379 L1463.4,359 Q1463.4,353 1461.4,348 Z"/>
<path d="M1465.4,377 L1465.4,359 Q1465.4,352 1463.4,348 Q1451.4,337 1451.4,324"/>
<path d="M1379.6,348.6 L1393.3,339.8"/>
<path d="M1411.8,324.2 L1436.0,306.7"/>
<path d="M1576.2,276.8 L1582.0,274.0 L1601.0,280.0 L1606.0,290.0 L1609.0,345.0 L1603.0,347.0 L1591.0,346.7 L1582.0,342.0"/>
<path d="M1580.0,278.0 L1586.0,341.0"/>
<ellipse cx="1537.0" cy="306.5" rx="4.0" ry="5.0"/>
<ellipse cx="1541.4" cy="354.2" rx="4.0" ry="5.0"/>
<ellipse cx="1588.0" cy="297.6" rx="6.0" ry="7.0" fill="#fff"/>
<ellipse cx="1592.0" cy="296.6" rx="6.0" ry="7.0"/>
<path d="M1588.0,290.6 L1594.0,289.6"/>
<path d="M1588.0,304.6 L1594.0,303.6"/>
<ellipse cx="1598.0" cy="295.6" rx="1.5" ry="2.5"/>
<ellipse cx="1591.0" cy="330.4" rx="6.0" ry="7.0" fill="#fff"/>
<ellipse cx="1595.0" cy="329.4" rx="6.0" ry="7.0"/>
<path d="M1591.0,323.4 L1597.0,322.4"/>
<path d="M1591.0,337.4 L1597.0,336.4"/>
<ellipse cx="1601.0" cy="328.4" rx="1.5" ry="2.5"/>
<path d="M1559.8,183 Q1560,178 1566,178.5 L1744,231 Q1752,234 1753,240 L1757.7,296 Q1757,300 1752,299.5 L1572,247 Q1567,245 1566,240 Z" fill="#fff"/>
<path d="M1565.0,182.0 L1748.0,236.0"/>
<path d="M1748.0,236.0 L1754.0,297.0"/>
<ellipse cx="1606.0" cy="224.7" rx="9.5" ry="16.0" transform="rotate(-8 1606 224.7)"/>
<ellipse cx="1607.5" cy="224.7" rx="8.0" ry="14.5" transform="rotate(-8 1607.5 224.7)"/>
<ellipse cx="1640.0" cy="235.0" rx="9.5" ry="16.0" transform="rotate(-8 1640 235)"/>
<ellipse cx="1641.5" cy="235.0" rx="8.0" ry="14.5" transform="rotate(-8 1641.5 235)"/>
<ellipse cx="1674.4" cy="246.4" rx="9.5" ry="16.0" transform="rotate(-8 1674.4 246.4)"/>
<ellipse cx="1675.9" cy="246.4" rx="8.0" ry="14.5" transform="rotate(-8 1675.9 246.4)"/>
<ellipse cx="1708.6" cy="256.5" rx="9.5" ry="16.0" transform="rotate(-8 1708.6 256.5)"/>
<ellipse cx="1710.1" cy="256.5" rx="8.0" ry="14.5" transform="rotate(-8 1710.1 256.5)"/>
<rect x="1568.2" y="195.4" width="10" height="8" rx="4" transform="rotate(20 1573.2 199.4)"/>
<ellipse cx="1571.2" cy="199.4" rx="2.5" ry="3.5"/>
<rect x="1571.2" y="228" width="10" height="8" rx="4" transform="rotate(20 1576.2 232)"/>
<ellipse cx="1574.2" cy="232.0" rx="2.5" ry="3.5"/>
<rect x="1733.4" y="247.5" width="10" height="8" rx="4" transform="rotate(20 1738.4 251.5)"/>
<ellipse cx="1736.4" cy="251.5" rx="2.5" ry="3.5"/>
<rect x="1735" y="280" width="10" height="8" rx="4" transform="rotate(20 1740 284)"/>
<ellipse cx="1738.0" cy="284.0" rx="2.5" ry="3.5"/>
<path d="M259.0,1339.5 L645.0,1148.3"/>
<path d="M281.5,1431.7 L686.0,1232.7"/>
<path d="M645,1148.3 Q648,1130 651,1119.4 Q654,1104 669,1093 L718.6,1063.7 L748.5,1049.8 L758.4,1049.8"/>
<path d="M668.9,1093.6 Q690,1088 705,1097 Q730,1115 745,1150 Q757,1185 756.5,1205 Q755,1240 740,1244 Q720,1247 702.7,1237 L686.8,1231"/>
<path d="M671,1096 Q692,1092 705,1100 Q727,1118 741,1150 Q753,1185 752.5,1205 Q751,1236 737,1241"/>
<path d="M718.6,1063.7 Q775,1075 798.3,1127.4 Q815,1165 813.2,1189 Q811,1215 796.3,1225"/>
<path d="M748.5,1049.8 Q800,1060 818,1083.6 Q838,1120 838,1159 Q838,1195 828,1209"/>
<path d="M738.5,1246.9 L796.3,1225.0 L828.0,1211.0"/>
<path d="M794.4,1068.8 L804.3,1035.7 L824.8,1031 Q840,1025.5 852.6,1028.4 Q858,1030 861.8,1038.3 L879,1082 Q890,1090 894.9,1119 Q895,1130 892.2,1134.9"/>
<ellipse cx="888.5" cy="1146.0" rx="3.0" ry="6.0" transform="rotate(10 888.5 1146)"/>
<path d="M892,1135 Q886,1150 884.3,1158.7 L891,1162.6 Q887,1172 879,1175.9 L839.3,1189.1"/>
<path d="M804.3,1035.7 L826.0,1042.3"/>
<path d="M826.0,1042.3 L860.0,1033.0"/>
<path d="M842,1037.7 L876.4,1132.2 Q878,1140 877.7,1145.5 Q877,1160 873.7,1171.9 L864.5,1182.5" stroke-width="1.8"/>
<path d="M826.0,1042.3 L850.0,1099.2"/>
<path d="M811.6,1089.9 L855.2,1100.5"/>
<path d="M819.5,1100.5 L855.2,1100.5"/>
<path d="M855.2,1100.5 L860.5,1164.0"/>
<path d="M844.6,1107.1 L850.0,1170.6"/>
<path d="M826.0,1113.7 L885.6,1100.5"/>
<path d="M839.3,1175.9 L859.2,1169.3"/>
<ellipse cx="816.0" cy="1054.0" rx="2.5" ry="4.5"/>
<path d="M238.2,1347.6 L259.0,1339.5"/>
<path d="M258.6,1487.3 Q270,1470 273.2,1451 L281.5,1431.7"/>
<path d="M240,1348 C270,1360 287,1385 284.8,1410.2 C284,1420 283,1427 281.9,1432"/>
<path d="M258.6,1341.1 C285,1350 304,1380 303,1407.3 C302,1412 301.5,1416 300.8,1419"/>
<path d="M107.3,1368 L180,1333.8 Q186,1331 192,1332.4 Q205,1336 216.4,1341.8 L238.2,1347.6"/>
<path d="M180.0,1528.0 L258.6,1487.3"/>
<path d="M130.6,1355.6 C180,1370 222,1420 222.2,1472.8 C222,1495 216,1508 210.6,1513.5"/>
<path d="M216.4,1341.8 C245,1360 272,1410 271.7,1451 C271,1470 265,1482 258.6,1487.3"/>
<ellipse cx="139.5" cy="1451.0" rx="50.0" ry="86.0" transform="rotate(-18 139.5 1451)" fill="#fff"/>
<ellipse cx="139.5" cy="1451.0" rx="48.0" ry="84.0" transform="rotate(-18 139.5 1451)"/>
<path d="M148.0,1433.5 L153.0,1499.7"/>
<path d="M121.8,1436.4 Q150,1432 174.2,1426.2"/>
<path d="M124.8,1503.3 L150.0,1497.0 L193.1,1484.4"/>
<path d="M153.0,1500.0 L190.0,1484.0"/>
<path d="M150.0,1505.0 L170.0,1512.0"/>
<path d="M124.8,1381.1 Q126,1394 130,1402 Q135,1410 150,1412 L168,1410"/>
<ellipse cx="140.0" cy="1384.0" rx="11.0" ry="5.5" transform="rotate(-15 140 1384)"/>
<ellipse cx="143.0" cy="1386.0" rx="6.0" ry="3.0" transform="rotate(-15 143 1386)"/>
<path d="M103.0,1408.0 L126.0,1402.0"/>
<path d="M101.0,1413.0 L126.0,1408.0"/>
<path d="M128.0,1424.0 L138.0,1420.0"/>
<path d="M124.0,1428.0 L145.0,1418.0"/>
<path d="M111.0,1385.0 L113.0,1395.0"/>
<path d="M63.6,1413 C85,1420 101,1445 101.5,1472.8 C101,1495 94,1512 85.5,1520.8"/>
<path d="M71,1408.8 C100,1415 124,1440 124.8,1472.8 C124,1495 110,1512 95.7,1516.4"/>
<path d="M76,1409 C104,1416 120,1440 121,1472.8 C121,1495 108,1510 93,1514"/>
<path d="M63.6,1413.0 L72.0,1408.0"/>
<path d="M101.5,1474.0 L117.5,1471.0 L117.5,1503.0 L103.0,1506.0 L101.5,1474.0"/>
<circle cx="111.7" cy="1498.2" r="4.5"/>
<ellipse cx="65.0" cy="1469.0" rx="33.0" ry="56.0" transform="rotate(-11 65 1469)" fill="#fff"/>
<ellipse cx="60.7" cy="1470.6" rx="20.3" ry="28.4" transform="rotate(-5 60.7 1470.6)"/>
<ellipse cx="60.0" cy="1471.0" rx="15.6" ry="26.0" transform="rotate(-5 60 1471)"/>
<path d="M46.0,1463.0 L69.0,1457.0"/>
<path d="M47.0,1470.0 L70.0,1464.0"/>
<path d="M48.0,1478.0 L70.0,1472.0"/>
<path d="M50.0,1485.0 L69.0,1480.0"/>
<path d="M45.0,1462.0 L46.0,1478.0"/>
<ellipse cx="52.0" cy="1455.0" rx="3.0" ry="2.0"/>
<ellipse cx="62.0" cy="1490.0" rx="3.0" ry="2.0"/>
<path d="M1534.6,1246 Q1535,1239 1545,1239.2 L1722,1292 Q1731,1295 1731.6,1303.5 L1733.7,1354 Q1733,1360 1727.4,1359.5 L1545,1305.5 Q1541,1304 1540.8,1300 Z" fill="#fff"/>
<path d="M1540.0,1243.0 L1724.0,1297.5"/>
<path d="M1724.0,1297.5 L1729.0,1358.0"/>
<ellipse cx="1582.3" cy="1282.7" rx="10.0" ry="16.5" transform="rotate(-8 1582.3 1282.7)"/>
<ellipse cx="1583.8" cy="1282.7" rx="8.5" ry="15.0" transform="rotate(-8 1583.8 1282.7)"/>
<ellipse cx="1615.4" cy="1293.1" rx="10.0" ry="16.5" transform="rotate(-8 1615.4 1293.1)"/>
<ellipse cx="1616.9" cy="1293.1" rx="8.5" ry="15.0" transform="rotate(-8 1616.9 1293.1)"/>
<ellipse cx="1649.5" cy="1304.3" rx="10.0" ry="16.5" transform="rotate(-8 1649.5 1304.3)"/>
<ellipse cx="1651.0" cy="1304.3" rx="8.5" ry="15.0" transform="rotate(-8 1651.0 1304.3)"/>
<ellipse cx="1683.9" cy="1315.0" rx="10.0" ry="16.5" transform="rotate(-8 1683.9 1315)"/>
<ellipse cx="1685.4" cy="1315.0" rx="8.5" ry="15.0" transform="rotate(-8 1685.4 1315)"/>
<ellipse cx="1543.0" cy="1261.0" rx="5.5" ry="7.6"/>
<ellipse cx="1541.5" cy="1261.0" rx="5.2" ry="7.3"/>
<path d="M1550.0,1260.0 L1547.5,1265.5 L1542.5,1265.5 L1540.0,1260.0 L1542.5,1254.5 L1547.5,1254.5 Z" fill="#fff"/>
<path d="M1542.5,1254.5 L1545.7,1260.0 L1542.5,1265.5"/>
<path d="M1544.0,1263.9 L1549.8,1265.4"/>
<path d="M1546.0,1256.1 L1551.8,1257.7"/>
<ellipse cx="1547.6" cy="1260.7" rx="2.4" ry="4.0" transform="rotate(15 1547.6079997309805 1260.6988114217768)"/>
<ellipse cx="1550.8" cy="1261.6" rx="2.6" ry="4.0" transform="rotate(15 1550.7955549577343 1261.552914270615)" fill="#fff"/>
<ellipse cx="1546.3" cy="1292.0" rx="5.5" ry="7.6"/>
<ellipse cx="1544.8" cy="1292.0" rx="5.2" ry="7.3"/>
<path d="M1553.3,1291.0 L1550.8,1296.5 L1545.8,1296.5 L1543.3,1291.0 L1545.8,1285.5 L1550.8,1285.5 Z" fill="#fff"/>
<path d="M1545.8,1285.5 L1549.0,1291.0 L1545.8,1296.5"/>
<path d="M1547.3,1294.9 L1553.1,1296.4"/>
<path d="M1549.3,1287.1 L1555.1,1288.7"/>
<ellipse cx="1550.9" cy="1291.7" rx="2.4" ry="4.0" transform="rotate(15 1550.9079997309805 1291.6988114217768)"/>
<ellipse cx="1554.1" cy="1292.6" rx="2.6" ry="4.0" transform="rotate(15 1554.0955549577343 1292.552914270615)" fill="#fff"/>
<ellipse cx="1708.0" cy="1310.7" rx="5.5" ry="7.6"/>
<ellipse cx="1706.5" cy="1310.7" rx="5.2" ry="7.3"/>
<path d="M1715.0,1309.7 L1712.5,1315.2 L1707.5,1315.2 L1705.0,1309.7 L1707.5,1304.2 L1712.5,1304.2 Z" fill="#fff"/>
<path d="M1707.5,1304.2 L1710.7,1309.7 L1707.5,1315.2"/>
<path d="M1709.0,1313.6 L1714.8,1315.1"/>
<path d="M1711.0,1305.8 L1716.8,1307.4"/>
<ellipse cx="1712.6" cy="1310.4" rx="2.4" ry="4.0" transform="rotate(15 1712.6079997309805 1310.3988114217768)"/>
<ellipse cx="1715.8" cy="1311.3" rx="2.6" ry="4.0" transform="rotate(15 1715.7955549577343 1311.252914270615)" fill="#fff"/>
<rect x="1710" y="1339" width="11" height="8" rx="4" transform="rotate(20 1715.8 1342.9)"/>
<path d="M1262.1,301.4 L1282.9,293.8"/>
<path d="M1259.3,293.8 L1280.1,286.2"/>
<ellipse cx="1281.5" cy="290.0" rx="2.4" ry="4.0" transform="rotate(-20.071525864538827 1281.5 290)" fill="#fff"/>
<path d="M1265.6,301.4 L1260.7,305.1 L1255.8,301.4 L1255.8,293.9 L1260.7,290.1 L1265.6,293.9 Z" fill="#fff"/>
<ellipse cx="1259.7" cy="297.6" rx="4.5" ry="6.8"/>
<ellipse cx="1299.4" cy="285.1" rx="5.8" ry="8.0" fill="#fff"/>
<ellipse cx="1299.4" cy="285.1" rx="2.9" ry="4.0"/>
<ellipse cx="1327.7" cy="275.3" rx="6.4" ry="9.4" fill="#fff"/>
<ellipse cx="1327.7" cy="275.3" rx="3.1" ry="4.5"/>
<ellipse cx="2011.3" cy="468.8" rx="5.8" ry="8.3" fill="#fff"/>
<ellipse cx="2011.3" cy="468.8" rx="2.8" ry="4.0"/>
<ellipse cx="2066.0" cy="451.3" rx="5.8" ry="8.0" fill="#fff"/>
<ellipse cx="2066.0" cy="451.3" rx="2.9" ry="4.0"/>
<path d="M2132.7,427.5 L2111.0,434.1"/>
<path d="M2134.7,434.1 L2113.0,440.7"/>
<ellipse cx="2112.0" cy="437.4" rx="2.1" ry="3.5" transform="rotate(163.08299413902012 2112 437.4)" fill="#fff"/>
<path d="M2138.2,434.3 L2133.7,437.8 L2129.2,434.3 L2129.2,427.3 L2133.7,423.8 L2138.2,427.3 Z" fill="#fff"/>
<ellipse cx="2132.7" cy="430.8" rx="4.2" ry="6.3"/>
<ellipse cx="2054.8" cy="611.0" rx="12.9" ry="15.0" fill="#fff"/>
<ellipse cx="2054.8" cy="611.0" rx="6.0" ry="7.0"/>
<ellipse cx="2098.4" cy="623.7" rx="11.0" ry="13.0" fill="#fff"/>
<ellipse cx="2098.4" cy="623.7" rx="5.1" ry="6.0"/>
<path d="M2094.0,626.0 L2100.0,632.0"/>
<path d="M2158.4,633.7 L2130.7,627.8"/>
<path d="M2155.0,649.3 L2127.3,643.4"/>
<ellipse cx="2129.0" cy="635.6" rx="4.8" ry="8.0" transform="rotate(-167.97589119731037 2129 635.6)" fill="#fff"/>
<path d="M2166.4,649.0 L2156.7,656.5 L2147.0,649.0 L2147.0,634.0 L2156.7,626.5 L2166.4,634.0 Z" fill="#fff"/>
<ellipse cx="2155.7" cy="641.5" rx="9.0" ry="13.5"/>
<ellipse cx="2275.7" cy="766.0" rx="6.0" ry="10.0" fill="#fff"/>
<ellipse cx="2275.7" cy="766.0" rx="2.4" ry="4.0"/>
<ellipse cx="2303.0" cy="752.0" rx="5.3" ry="8.5" fill="#fff"/>
<ellipse cx="2303.0" cy="752.0" rx="2.5" ry="4.0"/>
<path d="M2341.6,725.7 L2323.7,735.6"/>
<path d="M2345.0,731.9 L2327.1,741.8"/>
<ellipse cx="2325.4" cy="738.7" rx="2.1" ry="3.5" transform="rotate(151.05421966277564 2325.4 738.7)" fill="#fff"/>
<path d="M2347.5,732.0 L2343.3,735.3 L2339.1,732.0 L2339.1,725.5 L2343.3,722.3 L2347.5,725.5 Z" fill="#fff"/>
<ellipse cx="2342.3" cy="728.8" rx="3.9" ry="5.9"/>
<path d="M925.7,1123.2 L946.5,1115.6"/>
<path d="M923.1,1116.0 L943.9,1108.4"/>
<ellipse cx="945.2" cy="1112.0" rx="2.3" ry="3.8" transform="rotate(-20.071525864538444 945.2 1112)" fill="#fff"/>
<path d="M929.3,1123.3 L924.4,1127.1 L919.5,1123.3 L919.5,1115.8 L924.4,1112.1 L929.3,1115.8 Z" fill="#fff"/>
<ellipse cx="923.4" cy="1119.6" rx="4.5" ry="6.8"/>
<ellipse cx="958.9" cy="1109.2" rx="4.9" ry="7.0" fill="#fff"/>
<ellipse cx="958.9" cy="1109.2" rx="2.4" ry="3.5"/>
<ellipse cx="982.5" cy="1101.0" rx="5.3" ry="8.5" fill="#fff"/>
<ellipse cx="982.5" cy="1101.0" rx="2.5" ry="4.0"/>
<path d="M589.7,1128.0 L637.4,1114.8"/>
<path d="M587.3,1119.4 L635.0,1106.2"/>
<ellipse cx="636.2" cy="1110.5" rx="2.7" ry="4.5" transform="rotate(-15.46833965209116 636.2 1110.5)" fill="#fff"/>
<path d="M595.6,1129.2 L588.5,1134.7 L581.4,1129.2 L581.4,1118.2 L588.5,1112.7 L595.6,1118.2 Z" fill="#fff"/>
<ellipse cx="587.5" cy="1123.7" rx="6.6" ry="9.9"/>
<ellipse cx="885.0" cy="1030.4" rx="9.0" ry="11.0" fill="#fff"/>
<ellipse cx="885.0" cy="1030.4" rx="7.0" ry="9.0"/>
<ellipse cx="884.0" cy="1030.4" rx="3.5" ry="4.5"/>
<path d="M1577.3,1390.2 L1596.0,1384.0"/>
<path d="M1574.7,1382.6 L1593.4,1376.4"/>
<ellipse cx="1594.7" cy="1380.2" rx="2.4" ry="4.0" transform="rotate(-18.34298135854594 1594.7 1380.2)" fill="#fff"/>
<path d="M1580.9,1390.2 L1576.0,1393.9 L1571.1,1390.2 L1571.1,1382.7 L1576.0,1378.9 L1580.9,1382.7 Z" fill="#fff"/>
<ellipse cx="1575.0" cy="1386.4" rx="4.5" ry="6.8"/>
<ellipse cx="1623.7" cy="1369.8" rx="5.0" ry="7.0" fill="#fff"/>
<ellipse cx="1623.7" cy="1369.8" rx="2.5" ry="3.5"/>
<ellipse cx="1657.0" cy="1359.5" rx="5.0" ry="7.0" fill="#fff"/>
<ellipse cx="1657.0" cy="1359.5" rx="2.5" ry="3.5"/>
<ellipse cx="1781.4" cy="1258.0" rx="13.3" ry="18.4"/>
<ellipse cx="1779.9" cy="1258.0" rx="12.6" ry="17.7"/>
<path d="M1795.6,1257.0 L1789.5,1270.3 L1777.3,1270.3 L1771.2,1257.0 L1777.3,1243.7 L1789.5,1243.7 Z" fill="#fff"/>
<path d="M1777.3,1243.7 L1785.1,1257.0 L1777.3,1270.3"/>
<ellipse cx="1786.0" cy="1257.0" rx="8.0" ry="10.0"/>
<ellipse cx="1831.0" cy="1272.4" rx="13.9" ry="17.0" fill="#fff"/>
<ellipse cx="1831.0" cy="1272.4" rx="6.6" ry="8.0"/>
<ellipse cx="2073.8" cy="1349.0" rx="13.9" ry="17.0" fill="#fff"/>
<ellipse cx="2073.8" cy="1349.0" rx="6.6" ry="8.0"/>
<path d="M2157.6,1365.5 L2116.0,1351.0"/>
<path d="M2151.6,1382.5 L2110.0,1368.0"/>
<ellipse cx="2113.0" cy="1359.5" rx="5.4" ry="9.0" transform="rotate(-160.783606590178 2113 1359.5)" fill="#fff"/>
<path d="M2165.0,1382.0 L2154.6,1390.0 L2144.2,1382.0 L2144.2,1366.0 L2154.6,1358.0 L2165.0,1366.0 Z" fill="#fff"/>
<ellipse cx="2153.6" cy="1374.0" rx="9.6" ry="14.4"/>
<path d="M907.0,535.0 L1437.0,729.0" stroke-dasharray="28 7" stroke="#333" stroke-width="1"/>
<path d="M1552.0,626.0 L1821.0,710.0" stroke-dasharray="28 7" stroke="#333" stroke-width="1"/>
<path d="M1646.0,532.0 L2195.0,361.0" stroke-dasharray="28 7" stroke="#333" stroke-width="1"/>
<path d="M1767.0,542.0 L2011.0,469.0 L2066.0,451.0 L2120.0,435.0" stroke-dasharray="28 7" stroke="#333" stroke-width="1"/>
<path d="M1751.0,300.0 L1796.0,640.0 L1852.0,960.0 L1874.0,1196.0" stroke-dasharray="28 7" stroke="#333" stroke-width="1"/>
<path d="M1333.0,273.0 L1555.0,202.0" stroke-dasharray="28 7" stroke="#333" stroke-width="1"/>
<path d="M984.6,1099.6 L1117.0,1060.0" stroke-dasharray="28 7" stroke="#333" stroke-width="1"/>
<path d="M1286.0,978.0 L1360.0,951.0" stroke-dasharray="28 7" stroke="#333" stroke-width="1"/>
<path d="M1291.5,1004.0 L1498.0,938.0" stroke-dasharray="28 7" stroke="#333" stroke-width="1"/>
<path d="M493.7,1227.0 L885.8,1099.5" stroke-dasharray="28 7" stroke="#333" stroke-width="1"/>
<path d="M639.0,1109.5 L798.3,1057.7 L885.0,1030.0" stroke-dasharray="28 7" stroke="#333" stroke-width="1"/>
<path d="M1882.3,1289.7 L2169.4,1198.7" stroke-dasharray="28 7" stroke="#333" stroke-width="1"/>
<path d="M1788.4,1259.9 L2116.0,1362.5" stroke-dasharray="28 7" stroke="#333" stroke-width="1"/>
<path d="M2069.0,876.0 L2255.0,782.6 L2303.0,752.0 L2330.0,737.0" stroke-dasharray="28 7" stroke="#333" stroke-width="1"/>
<path d="M1968.5,687.5 L1964.0,639.0 L2054.8,611.0 L2129.0,636.0" stroke-dasharray="28 7" stroke="#333" stroke-width="1"/>
<path d="M1595.0,1380.0 L1657.0,1360.0" stroke-dasharray="28 7" stroke="#333" stroke-width="1"/>
<path d="M945.0,1112.0 L985.0,1100.0" stroke-dasharray="28 7" stroke="#333" stroke-width="1"/>
<g id="leaders" stroke="#333" stroke-width="1">
<line x1="1182" y1="113" x2="1293" y2="277"/>
<line x1="1283" y1="118" x2="1326" y2="266"/>
<line x1="1191" y1="244" x2="1255" y2="290"/>
<line x1="1572" y1="113" x2="1630" y2="198"/>
<line x1="1197" y1="365" x2="1369" y2="366"/>
<line x1="1778" y1="193" x2="1866" y2="338"/>
<line x1="1878" y1="194" x2="2011" y2="464"/>
<line x1="1985" y1="196" x2="2066" y2="447"/>
<line x1="2081" y1="196" x2="2134" y2="426"/>
<line x1="2316" y1="184" x2="2387" y2="236"/>
<line x1="2387" y1="475" x2="2104" y2="612"/>
<line x1="2092" y1="555" x2="2054" y2="597"/>
<line x1="2385" y1="579" x2="2171" y2="639"/>
<line x1="1487" y1="1359" x2="1570" y2="1314"/>
<line x1="1481" y1="1480" x2="1574" y2="1393"/>
<line x1="1597" y1="1470" x2="1623" y2="1376"/>
<line x1="1715" y1="1475" x2="1655" y2="1362"/>
<line x1="1851" y1="1470" x2="1792" y2="1270"/>
<line x1="1953" y1="1471" x2="1937" y2="1451"/>
<line x1="1937" y1="1451" x2="1835" y2="1279"/>
<line x1="1937" y1="1451" x2="2072" y2="1361"/>
<line x1="2119" y1="1470" x2="2144" y2="1386"/>
<line x1="2281" y1="1318" x2="2152" y2="1214"/>
<line x1="693" y1="945" x2="879" y2="1028"/>
<line x1="554" y1="979" x2="611" y2="1109"/>
<line x1="431" y1="1030" x2="513" y2="1211"/>
<line x1="804" y1="1348" x2="922" y2="1124"/>
<line x1="904" y1="1344" x2="960" y2="1111"/>
<line x1="1012" y1="1344" x2="985" y2="1104"/>
<line x1="1155" y1="1344" x2="1179" y2="1144"/>
<line x1="1308" y1="1231" x2="1465" y2="1057"/>
<line x1="689" y1="546" x2="769" y2="598"/>
<line x1="2391" y1="697" x2="2351" y2="731"/>
<line x1="2389" y1="814" x2="2306" y2="759"/>
<line x1="2399" y1="929" x2="2282" y2="771"/>
<line x1="2397" y1="1064" x2="2298" y2="929"/>
</g>
<g id="circles" fill="#fff" stroke="#111" stroke-width="1.3">
<circle cx="1163" cy="84" r="34"/>
<circle cx="1273" cy="84" r="34"/>
<circle cx="1552" cy="84" r="34"/>
<circle cx="1760" cy="162" r="34"/>
<circle cx="1864" cy="162" r="34"/>
<circle cx="1974" cy="162" r="34"/>
<circle cx="2073" cy="162" r="34"/>
<circle cx="2288" cy="162" r="34"/>
<circle cx="1163" cy="222" r="34"/>
<circle cx="1163" cy="364" r="34"/>
<circle cx="658" cy="525" r="34"/>
<circle cx="2419" cy="459" r="34"/>
<circle cx="2114" cy="527" r="34"/>
<circle cx="2419" cy="569" r="34"/>
<circle cx="2419" cy="675" r="34"/>
<circle cx="2419" cy="831" r="34"/>
<circle cx="2419" cy="958" r="34"/>
<circle cx="2419" cy="1094" r="34"/>
<circle cx="662" cy="929" r="34"/>
<circle cx="541" cy="945" r="34"/>
<circle cx="415" cy="996" r="34"/>
<circle cx="1284" cy="1257" r="34"/>
<circle cx="2305" cy="1340" r="34"/>
<circle cx="1454" cy="1377" r="34"/>
<circle cx="786" cy="1378" r="34"/>
<circle cx="893" cy="1378" r="34"/>
<circle cx="1015" cy="1378" r="34"/>
<circle cx="1150" cy="1378" r="34"/>
<circle cx="1454" cy="1504" r="34"/>
<circle cx="1587" cy="1504" r="34"/>
<circle cx="1731" cy="1504" r="34"/>
<circle cx="1859" cy="1504" r="34"/>
<circle cx="1979" cy="1504" r="34"/>
<circle cx="2108" cy="1504" r="34"/>
</g></g>
<g id="labels">
<text transform="translate(1147.15,94.40) scale(1,1.0)">3</text>
<text transform="translate(1163.00,94.40) scale(1,1.0)">3</text>
<text transform="translate(1257.15,94.40) scale(1,1.0)">2</text>
<text transform="translate(1273.00,94.40) scale(1,1.0)">9</text>
<text transform="translate(1544.08,94.40) scale(1,1.0)">6</text>
<path d="M763,0 L583,0 L583,1147 Q518,1085 412,1023 Q306,961 222,930 L222,1104 Q373,1175 486,1276 Q599,1377 646,1472 L763,1472 Z" fill="#111" stroke="#111" stroke-width="25.2" transform="translate(1744.15,172.40) scale(0.01392,-0.01392)"/>
<text transform="translate(1760.00,172.40) scale(1,1.0)">0</text>
<text transform="translate(1848.15,172.40) scale(1,1.0)">2</text>
<text transform="translate(1864.00,172.40) scale(1,1.0)">9</text>
<text transform="translate(1958.15,172.40) scale(1,1.0)">3</text>
<text transform="translate(1974.00,172.40) scale(1,1.0)">3</text>
<path d="M763,0 L583,0 L583,1147 Q518,1085 412,1023 Q306,961 222,930 L222,1104 Q373,1175 486,1276 Q599,1377 646,1472 L763,1472 Z" fill="#111" stroke="#111" stroke-width="25.2" transform="translate(2057.15,172.40) scale(0.01392,-0.01392)"/>
<text transform="translate(2073.00,172.40) scale(1,1.0)">9</text>
<text transform="translate(2272.15,172.40) scale(1,1.0)">4</text>
<text transform="translate(2288.00,172.40) scale(1,1.0)">5</text>
<path d="M763,0 L583,0 L583,1147 Q518,1085 412,1023 Q306,961 222,930 L222,1104 Q373,1175 486,1276 Q599,1377 646,1472 L763,1472 Z" fill="#111" stroke="#111" stroke-width="25.2" transform="translate(1147.15,232.40) scale(0.01392,-0.01392)"/>
<text transform="translate(1163.00,232.40) scale(1,1.0)">9</text>
<text transform="translate(1155.08,374.40) scale(1,1.0)">8</text>
<text transform="translate(650.08,535.40) scale(1,1.0)">2</text>
<text transform="translate(2403.15,469.40) scale(1,1.0)">3</text>
<text transform="translate(2419.00,469.40) scale(1,1.0)">5</text>
<text transform="translate(2098.15,537.40) scale(1,1.0)">3</text>
<path d="M763,0 L583,0 L583,1147 Q518,1085 412,1023 Q306,961 222,930 L222,1104 Q373,1175 486,1276 Q599,1377 646,1472 L763,1472 Z" fill="#111" stroke="#111" stroke-width="25.2" transform="translate(2114.00,537.40) scale(0.01392,-0.01392)"/>
<text transform="translate(2403.15,579.40) scale(1,1.0)">2</text>
<text transform="translate(2419.00,579.40) scale(1,1.0)">2</text>
<path d="M763,0 L583,0 L583,1147 Q518,1085 412,1023 Q306,961 222,930 L222,1104 Q373,1175 486,1276 Q599,1377 646,1472 L763,1472 Z" fill="#111" stroke="#111" stroke-width="25.2" transform="translate(2403.15,685.40) scale(0.01392,-0.01392)"/>
<text transform="translate(2419.00,685.40) scale(1,1.0)">9</text>
<text transform="translate(2403.15,841.40) scale(1,1.0)">3</text>
<text transform="translate(2419.00,841.40) scale(1,1.0)">3</text>
<text transform="translate(2403.15,968.40) scale(1,1.0)">2</text>
<text transform="translate(2419.00,968.40) scale(1,1.0)">9</text>
<text transform="translate(2411.08,1104.40) scale(1,1.0)">7</text>
<text transform="translate(646.15,939.40) scale(1,1.0)">5</text>
<text transform="translate(662.00,939.40) scale(1,1.0)">0</text>
<text transform="translate(525.15,955.40) scale(1,1.0)">4</text>
<text transform="translate(541.00,955.40) scale(1,1.0)">9</text>
<text transform="translate(399.15,1006.40) scale(1,1.0)">4</text>
<text transform="translate(415.00,1006.40) scale(1,1.0)">4</text>
<text transform="translate(1268.15,1267.40) scale(1,1.0)">4</text>
<text transform="translate(1284.00,1267.40) scale(1,1.0)">6</text>
<path d="M763,0 L583,0 L583,1147 Q518,1085 412,1023 Q306,961 222,930 L222,1104 Q373,1175 486,1276 Q599,1377 646,1472 L763,1472 Z" fill="#111" stroke="#111" stroke-width="25.2" transform="translate(2297.08,1350.40) scale(0.01392,-0.01392)"/>
<text transform="translate(1446.08,1387.40) scale(1,1.0)">6</text>
<path d="M763,0 L583,0 L583,1147 Q518,1085 412,1023 Q306,961 222,930 L222,1104 Q373,1175 486,1276 Q599,1377 646,1472 L763,1472 Z" fill="#111" stroke="#111" stroke-width="25.2" transform="translate(770.15,1388.40) scale(0.01392,-0.01392)"/>
<text transform="translate(786.00,1388.40) scale(1,1.0)">9</text>
<text transform="translate(877.15,1388.40) scale(1,1.0)">3</text>
<text transform="translate(893.00,1388.40) scale(1,1.0)">3</text>
<text transform="translate(999.15,1388.40) scale(1,1.0)">2</text>
<text transform="translate(1015.00,1388.40) scale(1,1.0)">9</text>
<text transform="translate(1142.08,1388.40) scale(1,1.0)">9</text>
<path d="M763,0 L583,0 L583,1147 Q518,1085 412,1023 Q306,961 222,930 L222,1104 Q373,1175 486,1276 Q599,1377 646,1472 L763,1472 Z" fill="#111" stroke="#111" stroke-width="25.2" transform="translate(1438.15,1514.40) scale(0.01392,-0.01392)"/>
<text transform="translate(1454.00,1514.40) scale(1,1.0)">9</text>
<text transform="translate(1571.15,1514.40) scale(1,1.0)">3</text>
<text transform="translate(1587.00,1514.40) scale(1,1.0)">3</text>
<text transform="translate(1715.15,1514.40) scale(1,1.0)">2</text>
<text transform="translate(1731.00,1514.40) scale(1,1.0)">9</text>
<text transform="translate(1843.15,1514.40) scale(1,1.0)">2</text>
<text transform="translate(1859.00,1514.40) scale(1,1.0)">8</text>
<text transform="translate(1963.15,1514.40) scale(1,1.0)">3</text>
<text transform="translate(1979.00,1514.40) scale(1,1.0)">2</text>
<text transform="translate(2092.15,1514.40) scale(1,1.0)">2</text>
<text transform="translate(2108.00,1514.40) scale(1,1.0)">3</text>
</g></svg></body></html>
